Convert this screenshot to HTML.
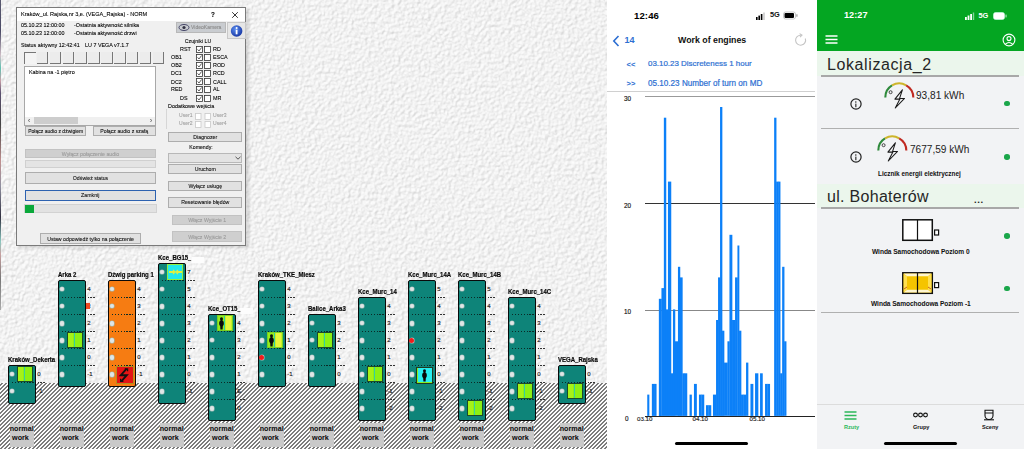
<!DOCTYPE html>
<html><head><meta charset="utf-8">
<style>
*{margin:0;padding:0;box-sizing:border-box}
html,body{width:1024px;height:449px;overflow:hidden;background:#fff}
body{position:relative;font-family:"Liberation Sans", sans-serif}
.a{position:absolute}
.t{position:absolute;white-space:nowrap;line-height:1}
</style></head><body>

<svg class="a" style="left:0;top:0" width="608" height="449">
<defs>
<filter id="tx" x="0" y="0" width="100%" height="100%" color-interpolation-filters="sRGB">
<feTurbulence type="fractalNoise" baseFrequency="0.3" numOctaves="2" seed="3" result="n"/>
<feDiffuseLighting in="n" surfaceScale="1.6" diffuseConstant="1" lighting-color="#fff" result="l"><feDistantLight azimuth="225" elevation="55"/></feDiffuseLighting>
<feColorMatrix in="l" type="matrix" values="0.22 0 0 0 0.77  0.22 0 0 0 0.77  0.22 0 0 0 0.77  0 0 0 0 1"/>
</filter>
<pattern id="hatch" width="4" height="4" patternUnits="userSpaceOnUse"><rect width="4" height="4" fill="#fcfcfc"/><rect x="0" y="0" width="1" height="1" fill="#7c7c7c"/><rect x="1" y="0" width="1" height="1" fill="#7c7c7c"/><rect x="0" y="1" width="1" height="1" fill="#7c7c7c"/><rect x="3" y="1" width="1" height="1" fill="#7c7c7c"/><rect x="2" y="2" width="1" height="1" fill="#7c7c7c"/><rect x="3" y="2" width="1" height="1" fill="#7c7c7c"/><rect x="1" y="3" width="1" height="1" fill="#7c7c7c"/><rect x="2" y="3" width="1" height="1" fill="#7c7c7c"/></pattern>
</defs>
<rect width="608" height="449" fill="#f8f8f8"/>
<rect width="608" height="449" filter="url(#tx)"/>
<rect x="0" y="383" width="608" height="66" fill="url(#hatch)" shape-rendering="crispEdges"/>
</svg>

<div class="a" style="left:0;top:0;width:1.2px;height:310px;background:linear-gradient(#5a5a70 0%,#4a4a66 10%,#d0c0c8 18%,#60c0b0 22%,#c8a0a8 26%,#5a5070 30%,#444 40%,#c09090 52%,#9090a0 60%,#303040 70%,#8cc8c0 78%,#c8a0a0 82%,#777 90%,#aaa 100%)"></div>
<div class="a" style="left:18px;top:9px;width:231px;height:239px;background:rgba(0,0,0,0.12);filter:blur(1.5px)"></div>
<div class="a" style="left:16px;top:7.2px;width:230.3px;height:238.5px;background:#f0f0f0;border:1px solid #7a7a7a"></div>
<div class="a" style="left:17px;top:8px;width:228px;height:13px;background:#fff"></div>
<div class="t" style="left:20.5px;top:11.4px;font-size:6.2px;color:#000;font-weight:normal;transform:scaleX(0.9);transform-origin:0 0;-webkit-text-stroke:0.1px #000;">Kraków_ul. Rajska,nr 3,e. (VEGA_Rajska) - NORM</div>
<div class="t" style="left:211px;top:11.0px;font-size:7px;color:#000;font-weight:bold;transform:scaleX(0.9);transform-origin:0 0;-webkit-text-stroke:0.1px #000;">?</div>
<svg class="a" style="left:231px;top:11px" width="8" height="8"><path d="M1.2 1.2L6.8 6.8M6.8 1.2L1.2 6.8" stroke="#222" stroke-width="0.9"/></svg>
<div class="t" style="left:21px;top:22.0px;font-size:6.0px;color:#000;font-weight:normal;transform:scaleX(0.9);transform-origin:0 0;-webkit-text-stroke:0.1px #000;">05.10.23 12:00:00</div>
<div class="t" style="left:21px;top:29.5px;font-size:6.0px;color:#000;font-weight:normal;transform:scaleX(0.9);transform-origin:0 0;-webkit-text-stroke:0.1px #000;">05.10.23 12:00:00</div>
<div class="t" style="left:74px;top:22.0px;font-size:6.0px;color:#000;font-weight:normal;transform:scaleX(0.9);transform-origin:0 0;-webkit-text-stroke:0.1px #000;">-Ostatnia aktywność silnika</div>
<div class="t" style="left:74px;top:29.5px;font-size:6.0px;color:#000;font-weight:normal;transform:scaleX(0.9);transform-origin:0 0;-webkit-text-stroke:0.1px #000;">-Ostatnia aktywność drzwi</div>
<div class="t" style="left:21px;top:42.3px;font-size:6.0px;color:#000;font-weight:normal;transform:scaleX(0.9);transform-origin:0 0;-webkit-text-stroke:0.1px #000;">Status aktywny 12:42:41</div>
<div class="t" style="left:84.5px;top:42.3px;font-size:6.0px;color:#000;font-weight:normal;transform:scaleX(0.9);transform-origin:0 0;-webkit-text-stroke:0.1px #000;">LU 7 VEGA v7.1.7</div>
<div class="a" style="left:176px;top:22px;width:50px;height:11px;background:#c9ccd0;border:1px solid #b8b8b8"></div>
<svg class="a" style="left:178px;top:23px" width="12" height="9"><ellipse cx="6" cy="4.5" rx="5" ry="3" fill="none" stroke="#446" stroke-width="1"/><circle cx="6" cy="4.5" r="1.6" fill="#334"/></svg>
<div class="t" style="left:191px;top:24.7px;font-size:5.6px;color:#8a8a8a;font-weight:normal;transform:scaleX(0.9);transform-origin:0 0;-webkit-text-stroke:0.1px #8a8a8a;">VideoKamera</div>
<div class="a" style="left:227px;top:22px;width:19px;height:17px;background:#e6e6e6;border:1px solid #c8c8c8"></div>
<svg class="a" style="left:229px;top:22.5px" width="16" height="16"><defs><radialGradient id="ig" cx="0.4" cy="0.35" r="0.7"><stop offset="0" stop-color="#5b8ef0"/><stop offset="1" stop-color="#1533a0"/></radialGradient></defs><circle cx="7.6" cy="8" r="5.8" fill="url(#ig)"/><circle cx="7.6" cy="5" r="1" fill="#fff"/><rect x="6.7" y="6.7" width="1.8" height="4.6" fill="#fff"/></svg>
<div class="a" style="left:24.0px;top:52px;width:11.5px;height:12px;border-top:1.2px solid #777;border-left:1.2px solid #777;background:#f4f4f4"></div>
<div class="a" style="left:36.9px;top:52px;width:11.5px;height:12px;border-right:1.2px solid #777;border-bottom:1.2px solid #777;background:#ececec"></div>
<div class="a" style="left:49.7px;top:52px;width:11.5px;height:12px;border-right:1.2px solid #777;border-bottom:1.2px solid #777;background:#ececec"></div>
<div class="a" style="left:62.5px;top:52px;width:11.5px;height:12px;border-right:1.2px solid #777;border-bottom:1.2px solid #777;background:#ececec"></div>
<div class="a" style="left:75.4px;top:52px;width:11.5px;height:12px;border-right:1.2px solid #777;border-bottom:1.2px solid #777;background:#ececec"></div>
<div class="a" style="left:88.2px;top:52px;width:11.5px;height:12px;border-right:1.2px solid #777;border-bottom:1.2px solid #777;background:#ececec"></div>
<div class="a" style="left:101.1px;top:52px;width:11.5px;height:12px;border-right:1.2px solid #777;border-bottom:1.2px solid #777;background:#ececec"></div>
<div class="a" style="left:114.0px;top:52px;width:11.5px;height:12px;border-right:1.2px solid #777;border-bottom:1.2px solid #777;background:#ececec"></div>
<div class="a" style="left:126.8px;top:52px;width:11.5px;height:12px;border-right:1.2px solid #777;border-bottom:1.2px solid #777;background:#ececec"></div>
<div class="a" style="left:139.6px;top:52px;width:11.5px;height:12px;border-right:1.2px solid #777;border-bottom:1.2px solid #777;background:#ececec"></div>
<div class="a" style="left:152.5px;top:52px;width:11.5px;height:12px;border-right:1.2px solid #777;border-bottom:1.2px solid #777;background:#ececec"></div>
<div class="a" style="left:24px;top:65.5px;width:132px;height:60px;background:#fff;border:1px solid #a8a8a8"></div>
<div class="t" style="left:29px;top:68.7px;font-size:6.0px;color:#000;font-weight:normal;transform:scaleX(0.9);transform-origin:0 0;-webkit-text-stroke:0.1px #000;">Kabina na -1 piętro</div>
<div class="a" style="left:25px;top:116.5px;width:130px;height:8px;background:#f0f0f0"></div>
<div class="a" style="left:34px;top:117px;width:44px;height:7px;background:#cdcdcd"></div>
<div class="t" style="left:28px;top:117.0px;font-size:7px;color:#555;font-weight:normal;transform:scaleX(0.9);transform-origin:0 0;-webkit-text-stroke:0.1px #555;">‹</div>
<div class="t" style="left:149.5px;top:117.0px;font-size:7px;color:#555;font-weight:normal;transform:scaleX(0.9);transform-origin:0 0;-webkit-text-stroke:0.1px #555;">›</div>
<div class="a" style="left:24.5px;top:126px;width:61.5px;height:9.5px;background:#e1e1e1;border:1px solid #adadad"></div>
<div class="t" style="left:24.5px;width:61.5px;text-align:center;top:129.1px;font-size:5.6px;color:#111;font-weight:normal;transform:scaleX(0.9);transform-origin:50% 0;-webkit-text-stroke:0.1px #111;">Połącz audio z dźwigiem</div>
<div class="a" style="left:93px;top:126px;width:62.5px;height:9.5px;background:#e1e1e1;border:1px solid #adadad"></div>
<div class="t" style="left:93px;width:62.5px;text-align:center;top:129.0px;font-size:5.8px;color:#111;font-weight:normal;transform:scaleX(0.9);transform-origin:50% 0;-webkit-text-stroke:0.1px #111;">Połącz audio z szafą</div>
<div class="a" style="left:24.5px;top:149px;width:131.0px;height:9px;background:#cfcfcf;border:1px solid #c2c2c2"></div>
<div class="t" style="left:24.5px;width:131.0px;text-align:center;top:151.8px;font-size:5.8px;color:#9a9a9a;font-weight:normal;transform:scaleX(0.9);transform-origin:50% 0;-webkit-text-stroke:0.1px #9a9a9a;">Wyłącz połączenie audio</div>
<div class="a" style="left:24.5px;top:159.5px;width:131px;height:8.5px;background:#e4e4e4;border:1px solid #d0d0d0"></div>
<div class="a" style="left:24.5px;top:172px;width:131.0px;height:11.5px;background:#e1e1e1;border:1px solid #adadad"></div>
<div class="t" style="left:24.5px;width:131.0px;text-align:center;top:176.0px;font-size:5.8px;color:#111;font-weight:normal;transform:scaleX(0.9);transform-origin:50% 0;-webkit-text-stroke:0.1px #111;">Odśwież status</div>
<div class="a" style="left:25px;top:189.5px;width:130.5px;height:11.0px;background:#e1e1e1;border:1.5px solid #2d62b0"></div>
<div class="t" style="left:25px;width:130.5px;text-align:center;top:193.3px;font-size:5.8px;color:#111;font-weight:normal;transform:scaleX(0.9);transform-origin:50% 0;-webkit-text-stroke:0.1px #111;">Zamknij</div>
<div class="a" style="left:24px;top:204px;width:132.5px;height:9px;background:#e2e2e2;border:1px solid #d2d2d2"></div>
<div class="a" style="left:24.5px;top:204.5px;width:9px;height:8px;background:#0aa83a"></div>
<div class="a" style="left:40px;top:233px;width:101px;height:10.5px;background:#e1e1e1;border:1px solid #adadad"></div>
<div class="t" style="left:40px;width:101px;text-align:center;top:236.5px;font-size:5.8px;color:#111;font-weight:normal;transform:scaleX(0.9);transform-origin:50% 0;-webkit-text-stroke:0.1px #111;">Ustaw odpowiedź tylko na połączenie</div>
<div class="t" style="left:180px;width:36px;text-align:center;top:39.3px;font-size:5.8px;color:#000;font-weight:normal;transform:scaleX(0.9);transform-origin:50% 0;-webkit-text-stroke:0.1px #000;">Czujniki LU</div>
<div class="t" style="left:180px;top:46.0px;font-size:6.0px;color:#000;font-weight:normal;transform:scaleX(0.9);transform-origin:0 0;-webkit-text-stroke:0.1px #000;">RST</div>
<svg class="a" style="left:196px;top:45.7px" width="15" height="7"><rect x="0.5" y="0.5" width="6" height="6" fill="#fff" stroke="#333" stroke-width="0.8"/><path d="M1.6 3.4L3 5L5.6 1.5" fill="none" stroke="#333" stroke-width="0.8"/><rect x="8.5" y="0.5" width="6" height="6" fill="#fff" stroke="#333" stroke-width="0.8"/></svg>
<div class="t" style="left:212.5px;top:46.0px;font-size:6.0px;color:#000;font-weight:normal;transform:scaleX(0.9);transform-origin:0 0;-webkit-text-stroke:0.1px #000;">RD</div>
<div class="t" style="left:170.5px;top:54.0px;font-size:6.0px;color:#000;font-weight:normal;transform:scaleX(0.9);transform-origin:0 0;-webkit-text-stroke:0.1px #000;">OB1</div>
<svg class="a" style="left:196px;top:53.7px" width="15" height="7"><rect x="0.5" y="0.5" width="6" height="6" fill="#fff" stroke="#333" stroke-width="0.8"/><path d="M1.6 3.4L3 5L5.6 1.5" fill="none" stroke="#333" stroke-width="0.8"/><rect x="8.5" y="0.5" width="6" height="6" fill="#fff" stroke="#333" stroke-width="0.8"/></svg>
<div class="t" style="left:212.5px;top:54.0px;font-size:6.0px;color:#000;font-weight:normal;transform:scaleX(0.9);transform-origin:0 0;-webkit-text-stroke:0.1px #000;">ESCA</div>
<div class="t" style="left:170.5px;top:62.0px;font-size:6.0px;color:#000;font-weight:normal;transform:scaleX(0.9);transform-origin:0 0;-webkit-text-stroke:0.1px #000;">OB2</div>
<svg class="a" style="left:196px;top:61.7px" width="15" height="7"><rect x="0.5" y="0.5" width="6" height="6" fill="#fff" stroke="#333" stroke-width="0.8"/><path d="M1.6 3.4L3 5L5.6 1.5" fill="none" stroke="#333" stroke-width="0.8"/><rect x="8.5" y="0.5" width="6" height="6" fill="#fff" stroke="#333" stroke-width="0.8"/></svg>
<div class="t" style="left:212.5px;top:62.0px;font-size:6.0px;color:#000;font-weight:normal;transform:scaleX(0.9);transform-origin:0 0;-webkit-text-stroke:0.1px #000;">ROD</div>
<div class="t" style="left:170.5px;top:70.0px;font-size:6.0px;color:#000;font-weight:normal;transform:scaleX(0.9);transform-origin:0 0;-webkit-text-stroke:0.1px #000;">DC1</div>
<svg class="a" style="left:196px;top:69.7px" width="15" height="7"><rect x="0.5" y="0.5" width="6" height="6" fill="#fff" stroke="#333" stroke-width="0.8"/><path d="M1.6 3.4L3 5L5.6 1.5" fill="none" stroke="#333" stroke-width="0.8"/><rect x="8.5" y="0.5" width="6" height="6" fill="#fff" stroke="#333" stroke-width="0.8"/></svg>
<div class="t" style="left:212.5px;top:70.0px;font-size:6.0px;color:#000;font-weight:normal;transform:scaleX(0.9);transform-origin:0 0;-webkit-text-stroke:0.1px #000;">RCD</div>
<div class="t" style="left:170.5px;top:78.5px;font-size:6.0px;color:#000;font-weight:normal;transform:scaleX(0.9);transform-origin:0 0;-webkit-text-stroke:0.1px #000;">DC2</div>
<svg class="a" style="left:196px;top:78.2px" width="15" height="7"><rect x="0.5" y="0.5" width="6" height="6" fill="#fff" stroke="#333" stroke-width="0.8"/><path d="M1.6 3.4L3 5L5.6 1.5" fill="none" stroke="#333" stroke-width="0.8"/><rect x="8.5" y="0.5" width="6" height="6" fill="#fff" stroke="#333" stroke-width="0.8"/></svg>
<div class="t" style="left:212.5px;top:78.5px;font-size:6.0px;color:#000;font-weight:normal;transform:scaleX(0.9);transform-origin:0 0;-webkit-text-stroke:0.1px #000;">CALL</div>
<div class="t" style="left:170.5px;top:86.0px;font-size:6.0px;color:#000;font-weight:normal;transform:scaleX(0.9);transform-origin:0 0;-webkit-text-stroke:0.1px #000;">RED</div>
<svg class="a" style="left:196px;top:85.7px" width="15" height="7"><rect x="0.5" y="0.5" width="6" height="6" fill="#fff" stroke="#333" stroke-width="0.8"/><path d="M1.6 3.4L3 5L5.6 1.5" fill="none" stroke="#333" stroke-width="0.8"/><rect x="8.5" y="0.5" width="6" height="6" fill="#fff" stroke="#333" stroke-width="0.8"/></svg>
<div class="t" style="left:212.5px;top:86.0px;font-size:6.0px;color:#000;font-weight:normal;transform:scaleX(0.9);transform-origin:0 0;-webkit-text-stroke:0.1px #000;">AL</div>
<div class="t" style="left:180px;top:95.0px;font-size:6.0px;color:#000;font-weight:normal;transform:scaleX(0.9);transform-origin:0 0;-webkit-text-stroke:0.1px #000;">DS</div>
<svg class="a" style="left:196px;top:94.7px" width="15" height="7"><rect x="0.5" y="0.5" width="6" height="6" fill="#fff" stroke="#333" stroke-width="0.8"/><path d="M1.6 3.4L3 5L5.6 1.5" fill="none" stroke="#333" stroke-width="0.8"/><rect x="8.5" y="0.5" width="6" height="6" fill="#fff" stroke="#333" stroke-width="0.8"/></svg>
<div class="t" style="left:212.5px;top:95.0px;font-size:6.0px;color:#000;font-weight:normal;transform:scaleX(0.9);transform-origin:0 0;-webkit-text-stroke:0.1px #000;">MR</div>
<div class="t" style="left:168px;top:103.2px;font-size:6.0px;color:#000;font-weight:normal;transform:scaleX(0.9);transform-origin:0 0;-webkit-text-stroke:0.1px #000;">Dodatkowe wejścia</div>
<div class="a" style="left:166px;top:109px;width:1px;height:20px;background:#d6d6d6"></div>
<div class="t" style="left:179px;top:113.0px;font-size:5.6px;color:#a0a0a0;font-weight:normal;transform:scaleX(0.9);transform-origin:0 0;-webkit-text-stroke:0.1px #a0a0a0;">User1</div>
<svg class="a" style="left:194.5px;top:112.6px" width="17" height="7"><rect x="0.5" y="0.5" width="5.5" height="6" fill="#fff" stroke="#c8c8c8" stroke-width="0.8"/><rect x="10" y="0.5" width="5.5" height="6" fill="#fff" stroke="#c8c8c8" stroke-width="0.8"/></svg>
<div class="t" style="left:212.5px;top:113.0px;font-size:5.6px;color:#a0a0a0;font-weight:normal;transform:scaleX(0.9);transform-origin:0 0;-webkit-text-stroke:0.1px #a0a0a0;">User3</div>
<div class="t" style="left:179px;top:121.0px;font-size:5.6px;color:#a0a0a0;font-weight:normal;transform:scaleX(0.9);transform-origin:0 0;-webkit-text-stroke:0.1px #a0a0a0;">User2</div>
<svg class="a" style="left:194.5px;top:120.6px" width="17" height="7"><rect x="0.5" y="0.5" width="5.5" height="6" fill="#fff" stroke="#c8c8c8" stroke-width="0.8"/><rect x="10" y="0.5" width="5.5" height="6" fill="#fff" stroke="#c8c8c8" stroke-width="0.8"/></svg>
<div class="t" style="left:212.5px;top:121.0px;font-size:5.6px;color:#a0a0a0;font-weight:normal;transform:scaleX(0.9);transform-origin:0 0;-webkit-text-stroke:0.1px #a0a0a0;">User4</div>
<div class="a" style="left:167.5px;top:131.5px;width:74.5px;height:10.0px;background:#e1e1e1;border:1px solid #adadad"></div>
<div class="t" style="left:167.5px;width:74.5px;text-align:center;top:134.8px;font-size:5.8px;color:#111;font-weight:normal;transform:scaleX(0.9);transform-origin:50% 0;-webkit-text-stroke:0.1px #111;">Diagnozer</div>
<div class="t" style="left:180px;width:42px;text-align:center;top:145.3px;font-size:5.8px;color:#000;font-weight:normal;transform:scaleX(0.9);transform-origin:50% 0;-webkit-text-stroke:0.1px #000;">Komendy:</div>
<div class="a" style="left:167.5px;top:152.5px;width:74.5px;height:10px;background:#e3e3e3;border:1px solid #b8b8b8"></div>
<svg class="a" style="left:234.5px;top:155.5px" width="6" height="4"><path d="M0.5 0.8L3 3.2L5.5 0.8" fill="none" stroke="#444" stroke-width="0.9"/></svg>
<div class="a" style="left:167.5px;top:163.5px;width:74.5px;height:10.800000000000011px;background:#e1e1e1;border:1px solid #adadad"></div>
<div class="t" style="left:167.5px;width:74.5px;text-align:center;top:167.2px;font-size:5.8px;color:#111;font-weight:normal;transform:scaleX(0.9);transform-origin:50% 0;-webkit-text-stroke:0.1px #111;">Uruchom</div>
<div class="a" style="left:167.5px;top:180.5px;width:74.5px;height:10.5px;background:#e1e1e1;border:1px solid #adadad"></div>
<div class="t" style="left:167.5px;width:74.5px;text-align:center;top:184.0px;font-size:5.8px;color:#111;font-weight:normal;transform:scaleX(0.9);transform-origin:50% 0;-webkit-text-stroke:0.1px #111;">Wyłącz usługę</div>
<div class="a" style="left:167.5px;top:196.5px;width:74.5px;height:11.0px;background:#e1e1e1;border:1px solid #adadad"></div>
<div class="t" style="left:167.5px;width:74.5px;text-align:center;top:200.3px;font-size:5.8px;color:#111;font-weight:normal;transform:scaleX(0.9);transform-origin:50% 0;-webkit-text-stroke:0.1px #111;">Resetowanie błędów</div>
<div class="a" style="left:171.5px;top:214.5px;width:70.5px;height:10.5px;background:#cfcfcf;border:1px solid #c2c2c2"></div>
<div class="t" style="left:171.5px;width:70.5px;text-align:center;top:218.0px;font-size:5.8px;color:#9a9a9a;font-weight:normal;transform:scaleX(0.9);transform-origin:50% 0;-webkit-text-stroke:0.1px #9a9a9a;">Włącz Wyjście 1</div>
<div class="a" style="left:171.5px;top:231px;width:70.5px;height:10.5px;background:#cfcfcf;border:1px solid #c2c2c2"></div>
<div class="t" style="left:171.5px;width:70.5px;text-align:center;top:234.5px;font-size:5.8px;color:#9a9a9a;font-weight:normal;transform:scaleX(0.9);transform-origin:50% 0;-webkit-text-stroke:0.1px #9a9a9a;">Włącz Wyjście 2</div>
<div class="t" style="left:7.8px;top:357.3px;font-size:6.7px;font-weight:bold;color:#0a0a0a;-webkit-text-stroke:0.2px #0a0a0a;transform:scaleX(0.9);transform-origin:0 0">Kraków_Dekerta</div>
<div class="a" style="left:7.5px;top:365px;width:28.4px;height:38.9px;background:#0e8479;border:1.3px solid #0a0a0a;border-radius:2px"></div>
<div class="a" style="left:9.5px;top:371.9px;width:4.6px;height:4.6px;border-radius:50%;background:#e0e6e6;box-shadow:0 0 0 0.6px #9cb8b4"></div>
<div class="a" style="left:11.7px;top:381.6px;width:22.5px;height:1px;background:repeating-linear-gradient(90deg,#0a2a26 0,#0a2a26 1.2px,transparent 1.2px,transparent 2.9px)"></div>
<div class="a" style="left:37.8px;top:381.6px;width:1.5px;height:1px;background:#333"></div><div class="a" style="left:40.4px;top:381.6px;width:1.5px;height:1px;background:#333"></div><div class="a" style="left:43.0px;top:381.6px;width:1.5px;height:1px;background:#333"></div>
<div class="t" style="left:37.3px;top:371.0px;font-size:6.0px;color:#1a1a1a;-webkit-text-stroke:0.15px #1a1a1a">0</div>
<div class="a" style="left:9.5px;top:388.9px;width:4.6px;height:4.6px;border-radius:50%;background:#e0e6e6;box-shadow:0 0 0 0.6px #9cb8b4"></div>
<div class="t" style="left:37.3px;top:388.1px;font-size:6.0px;color:#1a1a1a;-webkit-text-stroke:0.15px #1a1a1a">-1</div>
<div class="a" style="left:16.6px;top:366.0px;width:16.5px;height:16px;background:#8cf014;border:1px solid #1c4a2a"></div>
<div class="a" style="left:17.6px;top:367.0px;width:5.6px;height:14px;background:#a6f218"></div>
<div class="a" style="left:24.0px;top:367.0px;width:1.3px;height:14px;background:#34cfa6"></div>
<div class="a" style="left:9.5px;top:422.5px;width:24.2px;height:24.5px;background:#c9c9c9"></div>
<div class="t" style="left:9.7px;top:425.4px;font-size:7.2px;font-weight:bold;color:#0a0a0a">normal</div>
<div class="t" style="left:12.1px;top:433.6px;font-size:7.2px;font-weight:bold;color:#0a0a0a">work</div>
<div class="t" style="left:57.8px;top:272.3px;font-size:6.7px;font-weight:bold;color:#0a0a0a;-webkit-text-stroke:0.2px #0a0a0a;transform:scaleX(0.9);transform-origin:0 0">Arka 2</div>
<div class="a" style="left:57.5px;top:280px;width:28.4px;height:107.1px;background:#0e8479;border:1.3px solid #0a0a0a;border-radius:2px"></div>
<div class="a" style="left:59.5px;top:286.9px;width:4.6px;height:4.6px;border-radius:50%;background:#e0e6e6;box-shadow:0 0 0 0.6px #9cb8b4"></div>
<div class="a" style="left:61.7px;top:296.6px;width:22.5px;height:1px;background:repeating-linear-gradient(90deg,#0a2a26 0,#0a2a26 1.2px,transparent 1.2px,transparent 2.9px)"></div>
<div class="a" style="left:87.8px;top:296.6px;width:1.5px;height:1px;background:#333"></div><div class="a" style="left:90.4px;top:296.6px;width:1.5px;height:1px;background:#333"></div><div class="a" style="left:93.0px;top:296.6px;width:1.5px;height:1px;background:#333"></div>
<div class="t" style="left:87.3px;top:286.0px;font-size:6.0px;color:#1a1a1a;-webkit-text-stroke:0.15px #1a1a1a">4</div>
<div class="a" style="left:59.5px;top:303.9px;width:4.6px;height:4.6px;border-radius:50%;background:#e0e6e6;box-shadow:0 0 0 0.6px #9cb8b4"></div>
<div class="a" style="left:61.7px;top:313.7px;width:22.5px;height:1px;background:repeating-linear-gradient(90deg,#0a2a26 0,#0a2a26 1.2px,transparent 1.2px,transparent 2.9px)"></div>
<div class="a" style="left:87.8px;top:313.7px;width:1.5px;height:1px;background:#333"></div><div class="a" style="left:90.4px;top:313.7px;width:1.5px;height:1px;background:#333"></div><div class="a" style="left:93.0px;top:313.7px;width:1.5px;height:1px;background:#333"></div>
<div class="t" style="left:87.3px;top:303.1px;font-size:6.0px;color:#1a1a1a;-webkit-text-stroke:0.15px #1a1a1a">3</div>
<div class="a" style="left:59.5px;top:321.0px;width:4.6px;height:4.6px;border-radius:50%;background:#e0e6e6;box-shadow:0 0 0 0.6px #9cb8b4"></div>
<div class="a" style="left:61.7px;top:330.7px;width:22.5px;height:1px;background:repeating-linear-gradient(90deg,#0a2a26 0,#0a2a26 1.2px,transparent 1.2px,transparent 2.9px)"></div>
<div class="a" style="left:87.8px;top:330.7px;width:1.5px;height:1px;background:#333"></div><div class="a" style="left:90.4px;top:330.7px;width:1.5px;height:1px;background:#333"></div><div class="a" style="left:93.0px;top:330.7px;width:1.5px;height:1px;background:#333"></div>
<div class="t" style="left:87.3px;top:320.1px;font-size:6.0px;color:#1a1a1a;-webkit-text-stroke:0.15px #1a1a1a">2</div>
<div class="a" style="left:59.5px;top:338.1px;width:4.6px;height:4.6px;border-radius:50%;background:#e0e6e6;box-shadow:0 0 0 0.6px #9cb8b4"></div>
<div class="a" style="left:61.7px;top:347.8px;width:22.5px;height:1px;background:repeating-linear-gradient(90deg,#0a2a26 0,#0a2a26 1.2px,transparent 1.2px,transparent 2.9px)"></div>
<div class="a" style="left:87.8px;top:347.8px;width:1.5px;height:1px;background:#333"></div><div class="a" style="left:90.4px;top:347.8px;width:1.5px;height:1px;background:#333"></div><div class="a" style="left:93.0px;top:347.8px;width:1.5px;height:1px;background:#333"></div>
<div class="t" style="left:87.3px;top:337.2px;font-size:6.0px;color:#1a1a1a;-webkit-text-stroke:0.15px #1a1a1a">1</div>
<div class="a" style="left:59.5px;top:355.1px;width:4.6px;height:4.6px;border-radius:50%;background:#e0e6e6;box-shadow:0 0 0 0.6px #9cb8b4"></div>
<div class="a" style="left:61.7px;top:364.8px;width:22.5px;height:1px;background:repeating-linear-gradient(90deg,#0a2a26 0,#0a2a26 1.2px,transparent 1.2px,transparent 2.9px)"></div>
<div class="a" style="left:87.8px;top:364.8px;width:1.5px;height:1px;background:#333"></div><div class="a" style="left:90.4px;top:364.8px;width:1.5px;height:1px;background:#333"></div><div class="a" style="left:93.0px;top:364.8px;width:1.5px;height:1px;background:#333"></div>
<div class="t" style="left:87.3px;top:354.2px;font-size:6.0px;color:#1a1a1a;-webkit-text-stroke:0.15px #1a1a1a">0</div>
<div class="a" style="left:59.5px;top:372.1px;width:4.6px;height:4.6px;border-radius:50%;background:#e0e6e6;box-shadow:0 0 0 0.6px #9cb8b4"></div>
<div class="t" style="left:87.3px;top:371.2px;font-size:6.0px;color:#1a1a1a;-webkit-text-stroke:0.15px #1a1a1a">-1</div>
<div class="a" style="left:86.3px;top:303.2px;width:4px;height:6px;background:#f24a22"></div>
<div class="a" style="left:66.6px;top:332.2px;width:16.5px;height:16px;background:#8cf014;border:1px solid #1c4a2a"></div>
<div class="a" style="left:67.6px;top:333.2px;width:5.6px;height:14px;background:#a6f218"></div>
<div class="a" style="left:74.0px;top:333.2px;width:1.3px;height:14px;background:#34cfa6"></div>
<div class="a" style="left:59.5px;top:422.5px;width:24.2px;height:24.5px;background:#c9c9c9"></div>
<div class="t" style="left:59.7px;top:425.4px;font-size:7.2px;font-weight:bold;color:#0a0a0a">normal</div>
<div class="t" style="left:62.1px;top:433.6px;font-size:7.2px;font-weight:bold;color:#0a0a0a">work</div>
<div class="t" style="left:107.8px;top:272.3px;font-size:6.7px;font-weight:bold;color:#0a0a0a;-webkit-text-stroke:0.2px #0a0a0a;transform:scaleX(0.9);transform-origin:0 0">Dźwig parking 1</div>
<div class="a" style="left:107.5px;top:280px;width:28.4px;height:107.1px;background:#f67c12;border:1.3px solid #0a0a0a;border-radius:2px"></div>
<div class="a" style="left:109.5px;top:286.9px;width:4.6px;height:4.6px;border-radius:50%;background:#e0e6e6;box-shadow:0 0 0 0.6px #9cb8b4"></div>
<div class="a" style="left:111.7px;top:296.6px;width:22.5px;height:1px;background:repeating-linear-gradient(90deg,#0a2a26 0,#0a2a26 1.2px,transparent 1.2px,transparent 2.9px)"></div>
<div class="a" style="left:137.8px;top:296.6px;width:1.5px;height:1px;background:#333"></div><div class="a" style="left:140.4px;top:296.6px;width:1.5px;height:1px;background:#333"></div><div class="a" style="left:143.0px;top:296.6px;width:1.5px;height:1px;background:#333"></div>
<div class="t" style="left:137.3px;top:286.0px;font-size:6.0px;color:#1a1a1a;-webkit-text-stroke:0.15px #1a1a1a">4</div>
<div class="a" style="left:109.5px;top:303.9px;width:4.6px;height:4.6px;border-radius:50%;background:#e0e6e6;box-shadow:0 0 0 0.6px #9cb8b4"></div>
<div class="a" style="left:111.7px;top:313.7px;width:22.5px;height:1px;background:repeating-linear-gradient(90deg,#0a2a26 0,#0a2a26 1.2px,transparent 1.2px,transparent 2.9px)"></div>
<div class="a" style="left:137.8px;top:313.7px;width:1.5px;height:1px;background:#333"></div><div class="a" style="left:140.4px;top:313.7px;width:1.5px;height:1px;background:#333"></div><div class="a" style="left:143.0px;top:313.7px;width:1.5px;height:1px;background:#333"></div>
<div class="t" style="left:137.3px;top:303.1px;font-size:6.0px;color:#1a1a1a;-webkit-text-stroke:0.15px #1a1a1a">3</div>
<div class="a" style="left:109.5px;top:321.0px;width:4.6px;height:4.6px;border-radius:50%;background:#e0e6e6;box-shadow:0 0 0 0.6px #9cb8b4"></div>
<div class="a" style="left:111.7px;top:330.7px;width:22.5px;height:1px;background:repeating-linear-gradient(90deg,#0a2a26 0,#0a2a26 1.2px,transparent 1.2px,transparent 2.9px)"></div>
<div class="a" style="left:137.8px;top:330.7px;width:1.5px;height:1px;background:#333"></div><div class="a" style="left:140.4px;top:330.7px;width:1.5px;height:1px;background:#333"></div><div class="a" style="left:143.0px;top:330.7px;width:1.5px;height:1px;background:#333"></div>
<div class="t" style="left:137.3px;top:320.1px;font-size:6.0px;color:#1a1a1a;-webkit-text-stroke:0.15px #1a1a1a">2</div>
<div class="a" style="left:109.5px;top:338.1px;width:4.6px;height:4.6px;border-radius:50%;background:#e0e6e6;box-shadow:0 0 0 0.6px #9cb8b4"></div>
<div class="a" style="left:111.7px;top:347.8px;width:22.5px;height:1px;background:repeating-linear-gradient(90deg,#0a2a26 0,#0a2a26 1.2px,transparent 1.2px,transparent 2.9px)"></div>
<div class="a" style="left:137.8px;top:347.8px;width:1.5px;height:1px;background:#333"></div><div class="a" style="left:140.4px;top:347.8px;width:1.5px;height:1px;background:#333"></div><div class="a" style="left:143.0px;top:347.8px;width:1.5px;height:1px;background:#333"></div>
<div class="t" style="left:137.3px;top:337.2px;font-size:6.0px;color:#1a1a1a;-webkit-text-stroke:0.15px #1a1a1a">1</div>
<div class="a" style="left:109.5px;top:355.1px;width:4.6px;height:4.6px;border-radius:50%;background:#e0e6e6;box-shadow:0 0 0 0.6px #9cb8b4"></div>
<div class="a" style="left:111.7px;top:364.8px;width:22.5px;height:1px;background:repeating-linear-gradient(90deg,#0a2a26 0,#0a2a26 1.2px,transparent 1.2px,transparent 2.9px)"></div>
<div class="a" style="left:137.8px;top:364.8px;width:1.5px;height:1px;background:#333"></div><div class="a" style="left:140.4px;top:364.8px;width:1.5px;height:1px;background:#333"></div><div class="a" style="left:143.0px;top:364.8px;width:1.5px;height:1px;background:#333"></div>
<div class="t" style="left:137.3px;top:354.2px;font-size:6.0px;color:#1a1a1a;-webkit-text-stroke:0.15px #1a1a1a">0</div>
<div class="a" style="left:109.5px;top:372.1px;width:4.6px;height:4.6px;border-radius:50%;background:#e0e6e6;box-shadow:0 0 0 0.6px #9cb8b4"></div>
<div class="t" style="left:137.3px;top:371.2px;font-size:6.0px;color:#1a1a1a;-webkit-text-stroke:0.15px #1a1a1a">-1</div>
<div class="a" style="left:115.6px;top:365.8px;width:18px;height:18px;background:#e41414;border:1.4px solid #b09020"></div>
<svg class="a" style="left:118.1px;top:367.8px" width="13" height="14"><path d="M8.5 0.8L2.8 7.2H8.8L3.5 13.2" fill="none" stroke="#111" stroke-width="1.9"/><path d="M6.8 0.8H9.6V3.2" fill="none" stroke="#111" stroke-width="1.2"/><path d="M2.6 10.8V13.4H5.4" fill="none" stroke="#111" stroke-width="1.2"/></svg>
<div class="a" style="left:109.5px;top:422.5px;width:24.2px;height:24.5px;background:#c9c9c9"></div>
<div class="t" style="left:109.7px;top:425.4px;font-size:7.2px;font-weight:bold;color:#0a0a0a">normal</div>
<div class="t" style="left:112.1px;top:433.6px;font-size:7.2px;font-weight:bold;color:#0a0a0a">work</div>
<div class="t" style="left:157.8px;top:255.3px;font-size:6.7px;font-weight:bold;color:#0a0a0a;-webkit-text-stroke:0.2px #0a0a0a;transform:scaleX(0.9);transform-origin:0 0">Kce_BG15_<span style="display:inline-block;width:13.9px;height:6.7px;background:#fdfdfd;vertical-align:-3px"></span></div>
<div class="a" style="left:157.5px;top:263px;width:28.4px;height:141.2px;background:#0e8479;border:1.3px solid #0a0a0a;border-radius:2px"></div>
<div class="a" style="left:159.5px;top:269.9px;width:4.6px;height:4.6px;border-radius:50%;background:#e0e6e6;box-shadow:0 0 0 0.6px #9cb8b4"></div>
<div class="a" style="left:161.7px;top:279.6px;width:22.5px;height:1px;background:repeating-linear-gradient(90deg,#0a2a26 0,#0a2a26 1.2px,transparent 1.2px,transparent 2.9px)"></div>
<div class="a" style="left:187.8px;top:279.6px;width:1.5px;height:1px;background:#333"></div><div class="a" style="left:190.4px;top:279.6px;width:1.5px;height:1px;background:#333"></div><div class="a" style="left:193.0px;top:279.6px;width:1.5px;height:1px;background:#333"></div>
<div class="t" style="left:187.3px;top:269.0px;font-size:6.0px;color:#1a1a1a;-webkit-text-stroke:0.15px #1a1a1a">7</div>
<div class="a" style="left:159.5px;top:286.9px;width:4.6px;height:4.6px;border-radius:50%;background:#e0e6e6;box-shadow:0 0 0 0.6px #9cb8b4"></div>
<div class="a" style="left:161.7px;top:296.7px;width:22.5px;height:1px;background:repeating-linear-gradient(90deg,#0a2a26 0,#0a2a26 1.2px,transparent 1.2px,transparent 2.9px)"></div>
<div class="a" style="left:187.8px;top:296.7px;width:1.5px;height:1px;background:#333"></div><div class="a" style="left:190.4px;top:296.7px;width:1.5px;height:1px;background:#333"></div><div class="a" style="left:193.0px;top:296.7px;width:1.5px;height:1px;background:#333"></div>
<div class="t" style="left:187.3px;top:286.1px;font-size:6.0px;color:#1a1a1a;-webkit-text-stroke:0.15px #1a1a1a">5</div>
<div class="a" style="left:159.5px;top:304.0px;width:4.6px;height:4.6px;border-radius:50%;background:#e0e6e6;box-shadow:0 0 0 0.6px #9cb8b4"></div>
<div class="a" style="left:161.7px;top:313.7px;width:22.5px;height:1px;background:repeating-linear-gradient(90deg,#0a2a26 0,#0a2a26 1.2px,transparent 1.2px,transparent 2.9px)"></div>
<div class="a" style="left:187.8px;top:313.7px;width:1.5px;height:1px;background:#333"></div><div class="a" style="left:190.4px;top:313.7px;width:1.5px;height:1px;background:#333"></div><div class="a" style="left:193.0px;top:313.7px;width:1.5px;height:1px;background:#333"></div>
<div class="t" style="left:187.3px;top:303.1px;font-size:6.0px;color:#1a1a1a;-webkit-text-stroke:0.15px #1a1a1a">4</div>
<div class="a" style="left:159.5px;top:321.1px;width:4.6px;height:4.6px;border-radius:50%;background:#e0e6e6;box-shadow:0 0 0 0.6px #9cb8b4"></div>
<div class="a" style="left:161.7px;top:330.8px;width:22.5px;height:1px;background:repeating-linear-gradient(90deg,#0a2a26 0,#0a2a26 1.2px,transparent 1.2px,transparent 2.9px)"></div>
<div class="a" style="left:187.8px;top:330.8px;width:1.5px;height:1px;background:#333"></div><div class="a" style="left:190.4px;top:330.8px;width:1.5px;height:1px;background:#333"></div><div class="a" style="left:193.0px;top:330.8px;width:1.5px;height:1px;background:#333"></div>
<div class="t" style="left:187.3px;top:320.2px;font-size:6.0px;color:#1a1a1a;-webkit-text-stroke:0.15px #1a1a1a">3</div>
<div class="a" style="left:159.5px;top:338.1px;width:4.6px;height:4.6px;border-radius:50%;background:#e0e6e6;box-shadow:0 0 0 0.6px #9cb8b4"></div>
<div class="a" style="left:161.7px;top:347.8px;width:22.5px;height:1px;background:repeating-linear-gradient(90deg,#0a2a26 0,#0a2a26 1.2px,transparent 1.2px,transparent 2.9px)"></div>
<div class="a" style="left:187.8px;top:347.8px;width:1.5px;height:1px;background:#333"></div><div class="a" style="left:190.4px;top:347.8px;width:1.5px;height:1px;background:#333"></div><div class="a" style="left:193.0px;top:347.8px;width:1.5px;height:1px;background:#333"></div>
<div class="t" style="left:187.3px;top:337.2px;font-size:6.0px;color:#1a1a1a;-webkit-text-stroke:0.15px #1a1a1a">2</div>
<div class="a" style="left:159.5px;top:355.1px;width:4.6px;height:4.6px;border-radius:50%;background:#e0e6e6;box-shadow:0 0 0 0.6px #9cb8b4"></div>
<div class="a" style="left:161.7px;top:364.9px;width:22.5px;height:1px;background:repeating-linear-gradient(90deg,#0a2a26 0,#0a2a26 1.2px,transparent 1.2px,transparent 2.9px)"></div>
<div class="a" style="left:187.8px;top:364.9px;width:1.5px;height:1px;background:#333"></div><div class="a" style="left:190.4px;top:364.9px;width:1.5px;height:1px;background:#333"></div><div class="a" style="left:193.0px;top:364.9px;width:1.5px;height:1px;background:#333"></div>
<div class="t" style="left:187.3px;top:354.2px;font-size:6.0px;color:#1a1a1a;-webkit-text-stroke:0.15px #1a1a1a">1</div>
<div class="a" style="left:159.5px;top:372.2px;width:4.6px;height:4.6px;border-radius:50%;background:#e0e6e6;box-shadow:0 0 0 0.6px #9cb8b4"></div>
<div class="a" style="left:161.7px;top:381.9px;width:22.5px;height:1px;background:repeating-linear-gradient(90deg,#0a2a26 0,#0a2a26 1.2px,transparent 1.2px,transparent 2.9px)"></div>
<div class="a" style="left:187.8px;top:381.9px;width:1.5px;height:1px;background:#333"></div><div class="a" style="left:190.4px;top:381.9px;width:1.5px;height:1px;background:#333"></div><div class="a" style="left:193.0px;top:381.9px;width:1.5px;height:1px;background:#333"></div>
<div class="t" style="left:187.3px;top:371.3px;font-size:6.0px;color:#1a1a1a;-webkit-text-stroke:0.15px #1a1a1a">0</div>
<div class="a" style="left:159.5px;top:389.2px;width:4.6px;height:4.6px;border-radius:50%;background:#e0e6e6;box-shadow:0 0 0 0.6px #9cb8b4"></div>
<div class="t" style="left:187.3px;top:388.4px;font-size:6.0px;color:#1a1a1a;-webkit-text-stroke:0.15px #1a1a1a">-1</div>
<div class="a" style="left:166.6px;top:263.8px;width:16.5px;height:16px;background:#22e8ec;border:1px solid #90f040"></div>
<svg class="a" style="left:166.6px;top:269.0px" width="17" height="6"><path d="M2 3h5M10 3h5" stroke="#e0f040" stroke-width="1.8"/><path d="M6 0.8l2.2 2.2-2.2 2.2M11 0.8l-2.2 2.2 2.2 2.2" fill="none" stroke="#e0f040" stroke-width="1.1"/></svg>
<div class="a" style="left:159.5px;top:422.5px;width:24.2px;height:24.5px;background:#c9c9c9"></div>
<div class="t" style="left:159.7px;top:425.4px;font-size:7.2px;font-weight:bold;color:#0a0a0a">normal</div>
<div class="t" style="left:162.1px;top:433.6px;font-size:7.2px;font-weight:bold;color:#0a0a0a">work</div>
<div class="t" style="left:207.8px;top:306.3px;font-size:6.7px;font-weight:bold;color:#0a0a0a;-webkit-text-stroke:0.2px #0a0a0a;transform:scaleX(0.9);transform-origin:0 0">Kce_OT15_<span style="display:inline-block;width:13.9px;height:6.7px;background:#fdfdfd;vertical-align:-3px"></span></div>
<div class="a" style="left:207.5px;top:314px;width:28.4px;height:107.1px;background:#0e8479;border:1.3px solid #0a0a0a;border-radius:2px"></div>
<div class="a" style="left:209.5px;top:320.9px;width:4.6px;height:4.6px;border-radius:50%;background:#e0e6e6;box-shadow:0 0 0 0.6px #9cb8b4"></div>
<div class="a" style="left:211.7px;top:330.6px;width:22.5px;height:1px;background:repeating-linear-gradient(90deg,#0a2a26 0,#0a2a26 1.2px,transparent 1.2px,transparent 2.9px)"></div>
<div class="a" style="left:237.8px;top:330.6px;width:1.5px;height:1px;background:#333"></div><div class="a" style="left:240.4px;top:330.6px;width:1.5px;height:1px;background:#333"></div><div class="a" style="left:243.0px;top:330.6px;width:1.5px;height:1px;background:#333"></div>
<div class="t" style="left:237.3px;top:320.0px;font-size:6.0px;color:#1a1a1a;-webkit-text-stroke:0.15px #1a1a1a">4</div>
<div class="a" style="left:209.5px;top:337.9px;width:4.6px;height:4.6px;border-radius:50%;background:#e0e6e6;box-shadow:0 0 0 0.6px #9cb8b4"></div>
<div class="a" style="left:211.7px;top:347.7px;width:22.5px;height:1px;background:repeating-linear-gradient(90deg,#0a2a26 0,#0a2a26 1.2px,transparent 1.2px,transparent 2.9px)"></div>
<div class="a" style="left:237.8px;top:347.7px;width:1.5px;height:1px;background:#333"></div><div class="a" style="left:240.4px;top:347.7px;width:1.5px;height:1px;background:#333"></div><div class="a" style="left:243.0px;top:347.7px;width:1.5px;height:1px;background:#333"></div>
<div class="t" style="left:237.3px;top:337.1px;font-size:6.0px;color:#1a1a1a;-webkit-text-stroke:0.15px #1a1a1a">3</div>
<div class="a" style="left:209.5px;top:355.0px;width:4.6px;height:4.6px;border-radius:50%;background:#e0e6e6;box-shadow:0 0 0 0.6px #9cb8b4"></div>
<div class="a" style="left:211.7px;top:364.7px;width:22.5px;height:1px;background:repeating-linear-gradient(90deg,#0a2a26 0,#0a2a26 1.2px,transparent 1.2px,transparent 2.9px)"></div>
<div class="a" style="left:237.8px;top:364.7px;width:1.5px;height:1px;background:#333"></div><div class="a" style="left:240.4px;top:364.7px;width:1.5px;height:1px;background:#333"></div><div class="a" style="left:243.0px;top:364.7px;width:1.5px;height:1px;background:#333"></div>
<div class="t" style="left:237.3px;top:354.1px;font-size:6.0px;color:#1a1a1a;-webkit-text-stroke:0.15px #1a1a1a">2</div>
<div class="a" style="left:209.5px;top:372.1px;width:4.6px;height:4.6px;border-radius:50%;background:#e0e6e6;box-shadow:0 0 0 0.6px #9cb8b4"></div>
<div class="a" style="left:211.7px;top:381.8px;width:22.5px;height:1px;background:repeating-linear-gradient(90deg,#0a2a26 0,#0a2a26 1.2px,transparent 1.2px,transparent 2.9px)"></div>
<div class="a" style="left:237.8px;top:381.8px;width:1.5px;height:1px;background:#333"></div><div class="a" style="left:240.4px;top:381.8px;width:1.5px;height:1px;background:#333"></div><div class="a" style="left:243.0px;top:381.8px;width:1.5px;height:1px;background:#333"></div>
<div class="t" style="left:237.3px;top:371.2px;font-size:6.0px;color:#1a1a1a;-webkit-text-stroke:0.15px #1a1a1a">1</div>
<div class="a" style="left:209.5px;top:389.1px;width:4.6px;height:4.6px;border-radius:50%;background:#e0e6e6;box-shadow:0 0 0 0.6px #9cb8b4"></div>
<div class="a" style="left:211.7px;top:398.8px;width:22.5px;height:1px;background:repeating-linear-gradient(90deg,#0a2a26 0,#0a2a26 1.2px,transparent 1.2px,transparent 2.9px)"></div>
<div class="a" style="left:237.8px;top:398.8px;width:1.5px;height:1px;background:#333"></div><div class="a" style="left:240.4px;top:398.8px;width:1.5px;height:1px;background:#333"></div><div class="a" style="left:243.0px;top:398.8px;width:1.5px;height:1px;background:#333"></div>
<div class="t" style="left:237.3px;top:388.2px;font-size:6.0px;color:#1a1a1a;-webkit-text-stroke:0.15px #1a1a1a">E</div>
<div class="a" style="left:209.5px;top:406.1px;width:4.6px;height:4.6px;border-radius:50%;background:#e0e6e6;box-shadow:0 0 0 0.6px #9cb8b4"></div>
<div class="t" style="left:237.3px;top:405.2px;font-size:6.0px;color:#1a1a1a;-webkit-text-stroke:0.15px #1a1a1a">0</div>
<div class="a" style="left:216.6px;top:315.0px;width:16.5px;height:16px;background:#c6f226;border:1px solid #7ad020"></div>
<div class="a" style="left:217.6px;top:316.0px;width:6px;height:14px;background:#96ee1c"></div>
<div class="a" style="left:223.6px;top:316.0px;width:1.8px;height:14px;background:#2ecaa8"></div>
<div class="a" style="left:226.1px;top:316.0px;width:4.5px;height:14px;background:#e6f43c"></div>
<svg class="a" style="left:217.79999999999998px;top:316.5px" width="7" height="13"><path d="M3.5 0.3C2.4 0.3 1.9 1.2 2.1 2.2C2.2 2.9 2.6 3.2 2.6 3.5C1.4 3.9 1.1 5 1.2 7C1.3 8.2 1.9 8.6 2.2 9.2L2.4 12.5H4.6L4.8 9.2C5.1 8.6 5.7 8.2 5.8 7C5.9 5 5.6 3.9 4.4 3.5C4.4 3.2 4.8 2.9 4.9 2.2C5.1 1.2 4.6 0.3 3.5 0.3Z" fill="#0a0a0a"/></svg>
<div class="a" style="left:209.5px;top:422.5px;width:24.2px;height:24.5px;background:#c9c9c9"></div>
<div class="t" style="left:209.7px;top:425.4px;font-size:7.2px;font-weight:bold;color:#0a0a0a">normal</div>
<div class="t" style="left:212.1px;top:433.6px;font-size:7.2px;font-weight:bold;color:#0a0a0a">work</div>
<div class="t" style="left:257.8px;top:272.3px;font-size:6.7px;font-weight:bold;color:#0a0a0a;-webkit-text-stroke:0.2px #0a0a0a;transform:scaleX(0.9);transform-origin:0 0">Kraków_TKE_Miesz</div>
<div class="a" style="left:257.5px;top:280px;width:28.4px;height:107.1px;background:#0e8479;border:1.3px solid #0a0a0a;border-radius:2px"></div>
<div class="a" style="left:259.5px;top:286.9px;width:4.6px;height:4.6px;border-radius:50%;background:#e0e6e6;box-shadow:0 0 0 0.6px #9cb8b4"></div>
<div class="a" style="left:261.7px;top:296.6px;width:22.5px;height:1px;background:repeating-linear-gradient(90deg,#0a2a26 0,#0a2a26 1.2px,transparent 1.2px,transparent 2.9px)"></div>
<div class="a" style="left:287.8px;top:296.6px;width:1.5px;height:1px;background:#333"></div><div class="a" style="left:290.4px;top:296.6px;width:1.5px;height:1px;background:#333"></div><div class="a" style="left:293.0px;top:296.6px;width:1.5px;height:1px;background:#333"></div>
<div class="t" style="left:287.3px;top:286.0px;font-size:6.0px;color:#1a1a1a;-webkit-text-stroke:0.15px #1a1a1a">4</div>
<div class="a" style="left:259.5px;top:303.9px;width:4.6px;height:4.6px;border-radius:50%;background:#e0e6e6;box-shadow:0 0 0 0.6px #9cb8b4"></div>
<div class="a" style="left:261.7px;top:313.7px;width:22.5px;height:1px;background:repeating-linear-gradient(90deg,#0a2a26 0,#0a2a26 1.2px,transparent 1.2px,transparent 2.9px)"></div>
<div class="a" style="left:287.8px;top:313.7px;width:1.5px;height:1px;background:#333"></div><div class="a" style="left:290.4px;top:313.7px;width:1.5px;height:1px;background:#333"></div><div class="a" style="left:293.0px;top:313.7px;width:1.5px;height:1px;background:#333"></div>
<div class="t" style="left:287.3px;top:303.1px;font-size:6.0px;color:#1a1a1a;-webkit-text-stroke:0.15px #1a1a1a">3</div>
<div class="a" style="left:259.5px;top:321.0px;width:4.6px;height:4.6px;border-radius:50%;background:#e0e6e6;box-shadow:0 0 0 0.6px #9cb8b4"></div>
<div class="a" style="left:261.7px;top:330.7px;width:22.5px;height:1px;background:repeating-linear-gradient(90deg,#0a2a26 0,#0a2a26 1.2px,transparent 1.2px,transparent 2.9px)"></div>
<div class="a" style="left:287.8px;top:330.7px;width:1.5px;height:1px;background:#333"></div><div class="a" style="left:290.4px;top:330.7px;width:1.5px;height:1px;background:#333"></div><div class="a" style="left:293.0px;top:330.7px;width:1.5px;height:1px;background:#333"></div>
<div class="t" style="left:287.3px;top:320.1px;font-size:6.0px;color:#1a1a1a;-webkit-text-stroke:0.15px #1a1a1a">2</div>
<div class="a" style="left:259.5px;top:338.1px;width:4.6px;height:4.6px;border-radius:50%;background:#e0e6e6;box-shadow:0 0 0 0.6px #9cb8b4"></div>
<div class="a" style="left:261.7px;top:347.8px;width:22.5px;height:1px;background:repeating-linear-gradient(90deg,#0a2a26 0,#0a2a26 1.2px,transparent 1.2px,transparent 2.9px)"></div>
<div class="a" style="left:287.8px;top:347.8px;width:1.5px;height:1px;background:#333"></div><div class="a" style="left:290.4px;top:347.8px;width:1.5px;height:1px;background:#333"></div><div class="a" style="left:293.0px;top:347.8px;width:1.5px;height:1px;background:#333"></div>
<div class="t" style="left:287.3px;top:337.2px;font-size:6.0px;color:#1a1a1a;-webkit-text-stroke:0.15px #1a1a1a">1</div>
<div class="a" style="left:259.5px;top:355.1px;width:4.6px;height:4.6px;border-radius:50%;background:#e0e6e6;box-shadow:0 0 0 0.6px #9cb8b4"></div>
<div class="a" style="left:261.7px;top:364.8px;width:22.5px;height:1px;background:repeating-linear-gradient(90deg,#0a2a26 0,#0a2a26 1.2px,transparent 1.2px,transparent 2.9px)"></div>
<div class="a" style="left:287.8px;top:364.8px;width:1.5px;height:1px;background:#333"></div><div class="a" style="left:290.4px;top:364.8px;width:1.5px;height:1px;background:#333"></div><div class="a" style="left:293.0px;top:364.8px;width:1.5px;height:1px;background:#333"></div>
<div class="t" style="left:287.3px;top:354.2px;font-size:6.0px;color:#1a1a1a;-webkit-text-stroke:0.15px #1a1a1a">0</div>
<div class="a" style="left:259.5px;top:372.1px;width:4.6px;height:4.6px;border-radius:50%;background:#e0e6e6;box-shadow:0 0 0 0.6px #9cb8b4"></div>
<div class="t" style="left:287.3px;top:371.2px;font-size:6.0px;color:#1a1a1a;-webkit-text-stroke:0.15px #1a1a1a">-1</div>
<div class="a" style="left:259.2px;top:354.9px;width:5px;height:5px;border-radius:50%;background:#ee1c1c"></div>
<div class="a" style="left:266.6px;top:332.2px;width:16.5px;height:16px;background:#c6f226;border:1px solid #7ad020"></div>
<div class="a" style="left:267.6px;top:333.2px;width:6px;height:14px;background:#96ee1c"></div>
<div class="a" style="left:273.6px;top:333.2px;width:1.8px;height:14px;background:#2ecaa8"></div>
<div class="a" style="left:276.1px;top:333.2px;width:4.5px;height:14px;background:#e6f43c"></div>
<svg class="a" style="left:267.8px;top:333.7px" width="7" height="13"><path d="M3.5 0.3C2.4 0.3 1.9 1.2 2.1 2.2C2.2 2.9 2.6 3.2 2.6 3.5C1.4 3.9 1.1 5 1.2 7C1.3 8.2 1.9 8.6 2.2 9.2L2.4 12.5H4.6L4.8 9.2C5.1 8.6 5.7 8.2 5.8 7C5.9 5 5.6 3.9 4.4 3.5C4.4 3.2 4.8 2.9 4.9 2.2C5.1 1.2 4.6 0.3 3.5 0.3Z" fill="#0a0a0a"/></svg>
<div class="a" style="left:259.5px;top:422.5px;width:24.2px;height:24.5px;background:#c9c9c9"></div>
<div class="t" style="left:259.7px;top:425.4px;font-size:7.2px;font-weight:bold;color:#0a0a0a">normal</div>
<div class="t" style="left:262.1px;top:433.6px;font-size:7.2px;font-weight:bold;color:#0a0a0a">work</div>
<div class="t" style="left:307.8px;top:306.3px;font-size:6.7px;font-weight:bold;color:#0a0a0a;-webkit-text-stroke:0.2px #0a0a0a;transform:scaleX(0.9);transform-origin:0 0">Balice_Arka3</div>
<div class="a" style="left:307.5px;top:314px;width:28.4px;height:73.0px;background:#0e8479;border:1.3px solid #0a0a0a;border-radius:2px"></div>
<div class="a" style="left:309.5px;top:320.9px;width:4.6px;height:4.6px;border-radius:50%;background:#e0e6e6;box-shadow:0 0 0 0.6px #9cb8b4"></div>
<div class="a" style="left:311.7px;top:330.6px;width:22.5px;height:1px;background:repeating-linear-gradient(90deg,#0a2a26 0,#0a2a26 1.2px,transparent 1.2px,transparent 2.9px)"></div>
<div class="a" style="left:337.8px;top:330.6px;width:1.5px;height:1px;background:#333"></div><div class="a" style="left:340.4px;top:330.6px;width:1.5px;height:1px;background:#333"></div><div class="a" style="left:343.0px;top:330.6px;width:1.5px;height:1px;background:#333"></div>
<div class="t" style="left:337.3px;top:320.0px;font-size:6.0px;color:#1a1a1a;-webkit-text-stroke:0.15px #1a1a1a">3</div>
<div class="a" style="left:309.5px;top:337.9px;width:4.6px;height:4.6px;border-radius:50%;background:#e0e6e6;box-shadow:0 0 0 0.6px #9cb8b4"></div>
<div class="a" style="left:311.7px;top:347.7px;width:22.5px;height:1px;background:repeating-linear-gradient(90deg,#0a2a26 0,#0a2a26 1.2px,transparent 1.2px,transparent 2.9px)"></div>
<div class="a" style="left:337.8px;top:347.7px;width:1.5px;height:1px;background:#333"></div><div class="a" style="left:340.4px;top:347.7px;width:1.5px;height:1px;background:#333"></div><div class="a" style="left:343.0px;top:347.7px;width:1.5px;height:1px;background:#333"></div>
<div class="t" style="left:337.3px;top:337.1px;font-size:6.0px;color:#1a1a1a;-webkit-text-stroke:0.15px #1a1a1a">2</div>
<div class="a" style="left:309.5px;top:355.0px;width:4.6px;height:4.6px;border-radius:50%;background:#e0e6e6;box-shadow:0 0 0 0.6px #9cb8b4"></div>
<div class="a" style="left:311.7px;top:364.7px;width:22.5px;height:1px;background:repeating-linear-gradient(90deg,#0a2a26 0,#0a2a26 1.2px,transparent 1.2px,transparent 2.9px)"></div>
<div class="a" style="left:337.8px;top:364.7px;width:1.5px;height:1px;background:#333"></div><div class="a" style="left:340.4px;top:364.7px;width:1.5px;height:1px;background:#333"></div><div class="a" style="left:343.0px;top:364.7px;width:1.5px;height:1px;background:#333"></div>
<div class="t" style="left:337.3px;top:354.1px;font-size:6.0px;color:#1a1a1a;-webkit-text-stroke:0.15px #1a1a1a">1</div>
<div class="a" style="left:309.5px;top:372.1px;width:4.6px;height:4.6px;border-radius:50%;background:#e0e6e6;box-shadow:0 0 0 0.6px #9cb8b4"></div>
<div class="t" style="left:337.3px;top:371.2px;font-size:6.0px;color:#1a1a1a;-webkit-text-stroke:0.15px #1a1a1a">0</div>
<div class="a" style="left:316.6px;top:332.1px;width:16.5px;height:16px;background:#8cf014;border:1px solid #1c4a2a"></div>
<div class="a" style="left:317.6px;top:333.1px;width:5.6px;height:14px;background:#a6f218"></div>
<div class="a" style="left:324.0px;top:333.1px;width:1.3px;height:14px;background:#34cfa6"></div>
<div class="a" style="left:309.5px;top:422.5px;width:24.2px;height:24.5px;background:#c9c9c9"></div>
<div class="t" style="left:309.7px;top:425.4px;font-size:7.2px;font-weight:bold;color:#0a0a0a">normal</div>
<div class="t" style="left:312.1px;top:433.6px;font-size:7.2px;font-weight:bold;color:#0a0a0a">work</div>
<div class="t" style="left:357.8px;top:289.3px;font-size:6.7px;font-weight:bold;color:#0a0a0a;-webkit-text-stroke:0.2px #0a0a0a;transform:scaleX(0.9);transform-origin:0 0">Kce_Murc_14</div>
<div class="a" style="left:357.5px;top:297px;width:28.4px;height:124.2px;background:#0e8479;border:1.3px solid #0a0a0a;border-radius:2px"></div>
<div class="a" style="left:359.5px;top:303.9px;width:4.6px;height:4.6px;border-radius:50%;background:#e0e6e6;box-shadow:0 0 0 0.6px #9cb8b4"></div>
<div class="a" style="left:361.7px;top:313.6px;width:22.5px;height:1px;background:repeating-linear-gradient(90deg,#0a2a26 0,#0a2a26 1.2px,transparent 1.2px,transparent 2.9px)"></div>
<div class="a" style="left:387.8px;top:313.6px;width:1.5px;height:1px;background:#333"></div><div class="a" style="left:390.4px;top:313.6px;width:1.5px;height:1px;background:#333"></div><div class="a" style="left:393.0px;top:313.6px;width:1.5px;height:1px;background:#333"></div>
<div class="t" style="left:387.3px;top:303.0px;font-size:6.0px;color:#1a1a1a;-webkit-text-stroke:0.15px #1a1a1a">4</div>
<div class="a" style="left:359.5px;top:320.9px;width:4.6px;height:4.6px;border-radius:50%;background:#e0e6e6;box-shadow:0 0 0 0.6px #9cb8b4"></div>
<div class="a" style="left:361.7px;top:330.7px;width:22.5px;height:1px;background:repeating-linear-gradient(90deg,#0a2a26 0,#0a2a26 1.2px,transparent 1.2px,transparent 2.9px)"></div>
<div class="a" style="left:387.8px;top:330.7px;width:1.5px;height:1px;background:#333"></div><div class="a" style="left:390.4px;top:330.7px;width:1.5px;height:1px;background:#333"></div><div class="a" style="left:393.0px;top:330.7px;width:1.5px;height:1px;background:#333"></div>
<div class="t" style="left:387.3px;top:320.1px;font-size:6.0px;color:#1a1a1a;-webkit-text-stroke:0.15px #1a1a1a">3</div>
<div class="a" style="left:359.5px;top:338.0px;width:4.6px;height:4.6px;border-radius:50%;background:#e0e6e6;box-shadow:0 0 0 0.6px #9cb8b4"></div>
<div class="a" style="left:361.7px;top:347.7px;width:22.5px;height:1px;background:repeating-linear-gradient(90deg,#0a2a26 0,#0a2a26 1.2px,transparent 1.2px,transparent 2.9px)"></div>
<div class="a" style="left:387.8px;top:347.7px;width:1.5px;height:1px;background:#333"></div><div class="a" style="left:390.4px;top:347.7px;width:1.5px;height:1px;background:#333"></div><div class="a" style="left:393.0px;top:347.7px;width:1.5px;height:1px;background:#333"></div>
<div class="t" style="left:387.3px;top:337.1px;font-size:6.0px;color:#1a1a1a;-webkit-text-stroke:0.15px #1a1a1a">2</div>
<div class="a" style="left:359.5px;top:355.1px;width:4.6px;height:4.6px;border-radius:50%;background:#e0e6e6;box-shadow:0 0 0 0.6px #9cb8b4"></div>
<div class="a" style="left:361.7px;top:364.8px;width:22.5px;height:1px;background:repeating-linear-gradient(90deg,#0a2a26 0,#0a2a26 1.2px,transparent 1.2px,transparent 2.9px)"></div>
<div class="a" style="left:387.8px;top:364.8px;width:1.5px;height:1px;background:#333"></div><div class="a" style="left:390.4px;top:364.8px;width:1.5px;height:1px;background:#333"></div><div class="a" style="left:393.0px;top:364.8px;width:1.5px;height:1px;background:#333"></div>
<div class="t" style="left:387.3px;top:354.2px;font-size:6.0px;color:#1a1a1a;-webkit-text-stroke:0.15px #1a1a1a">1</div>
<div class="a" style="left:359.5px;top:372.1px;width:4.6px;height:4.6px;border-radius:50%;background:#e0e6e6;box-shadow:0 0 0 0.6px #9cb8b4"></div>
<div class="a" style="left:361.7px;top:381.8px;width:22.5px;height:1px;background:repeating-linear-gradient(90deg,#0a2a26 0,#0a2a26 1.2px,transparent 1.2px,transparent 2.9px)"></div>
<div class="a" style="left:387.8px;top:381.8px;width:1.5px;height:1px;background:#333"></div><div class="a" style="left:390.4px;top:381.8px;width:1.5px;height:1px;background:#333"></div><div class="a" style="left:393.0px;top:381.8px;width:1.5px;height:1px;background:#333"></div>
<div class="t" style="left:387.3px;top:371.2px;font-size:6.0px;color:#1a1a1a;-webkit-text-stroke:0.15px #1a1a1a">0</div>
<div class="a" style="left:359.5px;top:389.1px;width:4.6px;height:4.6px;border-radius:50%;background:#e0e6e6;box-shadow:0 0 0 0.6px #9cb8b4"></div>
<div class="a" style="left:361.7px;top:398.9px;width:22.5px;height:1px;background:repeating-linear-gradient(90deg,#0a2a26 0,#0a2a26 1.2px,transparent 1.2px,transparent 2.9px)"></div>
<div class="a" style="left:387.8px;top:398.9px;width:1.5px;height:1px;background:#333"></div><div class="a" style="left:390.4px;top:398.9px;width:1.5px;height:1px;background:#333"></div><div class="a" style="left:393.0px;top:398.9px;width:1.5px;height:1px;background:#333"></div>
<div class="t" style="left:387.3px;top:388.2px;font-size:6.0px;color:#1a1a1a;-webkit-text-stroke:0.15px #1a1a1a">-1</div>
<div class="a" style="left:359.5px;top:406.2px;width:4.6px;height:4.6px;border-radius:50%;background:#e0e6e6;box-shadow:0 0 0 0.6px #9cb8b4"></div>
<div class="t" style="left:387.3px;top:405.3px;font-size:6.0px;color:#1a1a1a;-webkit-text-stroke:0.15px #1a1a1a">-2</div>
<div class="a" style="left:366.6px;top:366.2px;width:16.5px;height:16px;background:#8cf014;border:1px solid #1c4a2a"></div>
<div class="a" style="left:367.6px;top:367.2px;width:5.6px;height:14px;background:#a6f218"></div>
<div class="a" style="left:374.0px;top:367.2px;width:1.3px;height:14px;background:#34cfa6"></div>
<div class="a" style="left:359.5px;top:422.5px;width:24.2px;height:24.5px;background:#c9c9c9"></div>
<div class="t" style="left:359.7px;top:425.4px;font-size:7.2px;font-weight:bold;color:#0a0a0a">normal</div>
<div class="t" style="left:362.1px;top:433.6px;font-size:7.2px;font-weight:bold;color:#0a0a0a">work</div>
<div class="t" style="left:407.8px;top:272.3px;font-size:6.7px;font-weight:bold;color:#0a0a0a;-webkit-text-stroke:0.2px #0a0a0a;transform:scaleX(0.9);transform-origin:0 0">Kce_Murc_14A</div>
<div class="a" style="left:407.5px;top:280px;width:28.4px;height:141.2px;background:#0e8479;border:1.3px solid #0a0a0a;border-radius:2px"></div>
<div class="a" style="left:409.5px;top:286.9px;width:4.6px;height:4.6px;border-radius:50%;background:#e0e6e6;box-shadow:0 0 0 0.6px #9cb8b4"></div>
<div class="a" style="left:411.7px;top:296.6px;width:22.5px;height:1px;background:repeating-linear-gradient(90deg,#0a2a26 0,#0a2a26 1.2px,transparent 1.2px,transparent 2.9px)"></div>
<div class="a" style="left:437.8px;top:296.6px;width:1.5px;height:1px;background:#333"></div><div class="a" style="left:440.4px;top:296.6px;width:1.5px;height:1px;background:#333"></div><div class="a" style="left:443.0px;top:296.6px;width:1.5px;height:1px;background:#333"></div>
<div class="t" style="left:437.3px;top:286.0px;font-size:6.0px;color:#1a1a1a;-webkit-text-stroke:0.15px #1a1a1a">5</div>
<div class="a" style="left:409.5px;top:303.9px;width:4.6px;height:4.6px;border-radius:50%;background:#e0e6e6;box-shadow:0 0 0 0.6px #9cb8b4"></div>
<div class="a" style="left:411.7px;top:313.7px;width:22.5px;height:1px;background:repeating-linear-gradient(90deg,#0a2a26 0,#0a2a26 1.2px,transparent 1.2px,transparent 2.9px)"></div>
<div class="a" style="left:437.8px;top:313.7px;width:1.5px;height:1px;background:#333"></div><div class="a" style="left:440.4px;top:313.7px;width:1.5px;height:1px;background:#333"></div><div class="a" style="left:443.0px;top:313.7px;width:1.5px;height:1px;background:#333"></div>
<div class="t" style="left:437.3px;top:303.1px;font-size:6.0px;color:#1a1a1a;-webkit-text-stroke:0.15px #1a1a1a">4</div>
<div class="a" style="left:409.5px;top:321.0px;width:4.6px;height:4.6px;border-radius:50%;background:#e0e6e6;box-shadow:0 0 0 0.6px #9cb8b4"></div>
<div class="a" style="left:411.7px;top:330.7px;width:22.5px;height:1px;background:repeating-linear-gradient(90deg,#0a2a26 0,#0a2a26 1.2px,transparent 1.2px,transparent 2.9px)"></div>
<div class="a" style="left:437.8px;top:330.7px;width:1.5px;height:1px;background:#333"></div><div class="a" style="left:440.4px;top:330.7px;width:1.5px;height:1px;background:#333"></div><div class="a" style="left:443.0px;top:330.7px;width:1.5px;height:1px;background:#333"></div>
<div class="t" style="left:437.3px;top:320.1px;font-size:6.0px;color:#1a1a1a;-webkit-text-stroke:0.15px #1a1a1a">3</div>
<div class="a" style="left:409.5px;top:338.1px;width:4.6px;height:4.6px;border-radius:50%;background:#e0e6e6;box-shadow:0 0 0 0.6px #9cb8b4"></div>
<div class="a" style="left:411.7px;top:347.8px;width:22.5px;height:1px;background:repeating-linear-gradient(90deg,#0a2a26 0,#0a2a26 1.2px,transparent 1.2px,transparent 2.9px)"></div>
<div class="a" style="left:437.8px;top:347.8px;width:1.5px;height:1px;background:#333"></div><div class="a" style="left:440.4px;top:347.8px;width:1.5px;height:1px;background:#333"></div><div class="a" style="left:443.0px;top:347.8px;width:1.5px;height:1px;background:#333"></div>
<div class="t" style="left:437.3px;top:337.2px;font-size:6.0px;color:#1a1a1a;-webkit-text-stroke:0.15px #1a1a1a">2</div>
<div class="a" style="left:409.5px;top:355.1px;width:4.6px;height:4.6px;border-radius:50%;background:#e0e6e6;box-shadow:0 0 0 0.6px #9cb8b4"></div>
<div class="a" style="left:411.7px;top:364.8px;width:22.5px;height:1px;background:repeating-linear-gradient(90deg,#0a2a26 0,#0a2a26 1.2px,transparent 1.2px,transparent 2.9px)"></div>
<div class="a" style="left:437.8px;top:364.8px;width:1.5px;height:1px;background:#333"></div><div class="a" style="left:440.4px;top:364.8px;width:1.5px;height:1px;background:#333"></div><div class="a" style="left:443.0px;top:364.8px;width:1.5px;height:1px;background:#333"></div>
<div class="t" style="left:437.3px;top:354.2px;font-size:6.0px;color:#1a1a1a;-webkit-text-stroke:0.15px #1a1a1a">1</div>
<div class="a" style="left:409.5px;top:372.1px;width:4.6px;height:4.6px;border-radius:50%;background:#e0e6e6;box-shadow:0 0 0 0.6px #9cb8b4"></div>
<div class="a" style="left:411.7px;top:381.9px;width:22.5px;height:1px;background:repeating-linear-gradient(90deg,#0a2a26 0,#0a2a26 1.2px,transparent 1.2px,transparent 2.9px)"></div>
<div class="a" style="left:437.8px;top:381.9px;width:1.5px;height:1px;background:#333"></div><div class="a" style="left:440.4px;top:381.9px;width:1.5px;height:1px;background:#333"></div><div class="a" style="left:443.0px;top:381.9px;width:1.5px;height:1px;background:#333"></div>
<div class="t" style="left:437.3px;top:371.2px;font-size:6.0px;color:#1a1a1a;-webkit-text-stroke:0.15px #1a1a1a">0</div>
<div class="a" style="left:409.5px;top:389.2px;width:4.6px;height:4.6px;border-radius:50%;background:#e0e6e6;box-shadow:0 0 0 0.6px #9cb8b4"></div>
<div class="a" style="left:411.7px;top:398.9px;width:22.5px;height:1px;background:repeating-linear-gradient(90deg,#0a2a26 0,#0a2a26 1.2px,transparent 1.2px,transparent 2.9px)"></div>
<div class="a" style="left:437.8px;top:398.9px;width:1.5px;height:1px;background:#333"></div><div class="a" style="left:440.4px;top:398.9px;width:1.5px;height:1px;background:#333"></div><div class="a" style="left:443.0px;top:398.9px;width:1.5px;height:1px;background:#333"></div>
<div class="t" style="left:437.3px;top:388.3px;font-size:6.0px;color:#1a1a1a;-webkit-text-stroke:0.15px #1a1a1a">-1</div>
<div class="a" style="left:409.5px;top:406.2px;width:4.6px;height:4.6px;border-radius:50%;background:#e0e6e6;box-shadow:0 0 0 0.6px #9cb8b4"></div>
<div class="t" style="left:437.3px;top:405.4px;font-size:6.0px;color:#1a1a1a;-webkit-text-stroke:0.15px #1a1a1a">-2</div>
<div class="a" style="left:409.2px;top:337.9px;width:5px;height:5px;border-radius:50%;background:#ee1c1c"></div>
<div class="a" style="left:416.1px;top:366.6px;width:17.0px;height:17.5px;background:#88f020;border:1px solid #203a20"></div>
<div class="a" style="left:417.6px;top:367.9px;width:14.0px;height:14.5px;background:#28eef0"></div>
<svg class="a" style="left:421.1px;top:369.2px" width="7" height="13"><path d="M3.5 0.3C2.4 0.3 1.9 1.2 2.1 2.2C2.2 2.9 2.6 3.2 2.6 3.5C1.4 3.9 1.1 5 1.2 7C1.3 8.2 1.9 8.6 2.2 9.2L2.4 12.5H4.6L4.8 9.2C5.1 8.6 5.7 8.2 5.8 7C5.9 5 5.6 3.9 4.4 3.5C4.4 3.2 4.8 2.9 4.9 2.2C5.1 1.2 4.6 0.3 3.5 0.3Z" fill="#0a0a0a"/></svg>
<div class="a" style="left:409.5px;top:422.5px;width:24.2px;height:24.5px;background:#c9c9c9"></div>
<div class="t" style="left:409.7px;top:425.4px;font-size:7.2px;font-weight:bold;color:#0a0a0a">normal</div>
<div class="t" style="left:412.1px;top:433.6px;font-size:7.2px;font-weight:bold;color:#0a0a0a">work</div>
<div class="t" style="left:457.8px;top:272.3px;font-size:6.7px;font-weight:bold;color:#0a0a0a;-webkit-text-stroke:0.2px #0a0a0a;transform:scaleX(0.9);transform-origin:0 0">Kce_Murc_14B</div>
<div class="a" style="left:457.5px;top:280px;width:28.4px;height:141.2px;background:#0e8479;border:1.3px solid #0a0a0a;border-radius:2px"></div>
<div class="a" style="left:459.5px;top:286.9px;width:4.6px;height:4.6px;border-radius:50%;background:#e0e6e6;box-shadow:0 0 0 0.6px #9cb8b4"></div>
<div class="a" style="left:461.7px;top:296.6px;width:22.5px;height:1px;background:repeating-linear-gradient(90deg,#0a2a26 0,#0a2a26 1.2px,transparent 1.2px,transparent 2.9px)"></div>
<div class="a" style="left:487.8px;top:296.6px;width:1.5px;height:1px;background:#333"></div><div class="a" style="left:490.4px;top:296.6px;width:1.5px;height:1px;background:#333"></div><div class="a" style="left:493.0px;top:296.6px;width:1.5px;height:1px;background:#333"></div>
<div class="t" style="left:487.3px;top:286.0px;font-size:6.0px;color:#1a1a1a;-webkit-text-stroke:0.15px #1a1a1a">5</div>
<div class="a" style="left:459.5px;top:303.9px;width:4.6px;height:4.6px;border-radius:50%;background:#e0e6e6;box-shadow:0 0 0 0.6px #9cb8b4"></div>
<div class="a" style="left:461.7px;top:313.7px;width:22.5px;height:1px;background:repeating-linear-gradient(90deg,#0a2a26 0,#0a2a26 1.2px,transparent 1.2px,transparent 2.9px)"></div>
<div class="a" style="left:487.8px;top:313.7px;width:1.5px;height:1px;background:#333"></div><div class="a" style="left:490.4px;top:313.7px;width:1.5px;height:1px;background:#333"></div><div class="a" style="left:493.0px;top:313.7px;width:1.5px;height:1px;background:#333"></div>
<div class="t" style="left:487.3px;top:303.1px;font-size:6.0px;color:#1a1a1a;-webkit-text-stroke:0.15px #1a1a1a">4</div>
<div class="a" style="left:459.5px;top:321.0px;width:4.6px;height:4.6px;border-radius:50%;background:#e0e6e6;box-shadow:0 0 0 0.6px #9cb8b4"></div>
<div class="a" style="left:461.7px;top:330.7px;width:22.5px;height:1px;background:repeating-linear-gradient(90deg,#0a2a26 0,#0a2a26 1.2px,transparent 1.2px,transparent 2.9px)"></div>
<div class="a" style="left:487.8px;top:330.7px;width:1.5px;height:1px;background:#333"></div><div class="a" style="left:490.4px;top:330.7px;width:1.5px;height:1px;background:#333"></div><div class="a" style="left:493.0px;top:330.7px;width:1.5px;height:1px;background:#333"></div>
<div class="t" style="left:487.3px;top:320.1px;font-size:6.0px;color:#1a1a1a;-webkit-text-stroke:0.15px #1a1a1a">3</div>
<div class="a" style="left:459.5px;top:338.1px;width:4.6px;height:4.6px;border-radius:50%;background:#e0e6e6;box-shadow:0 0 0 0.6px #9cb8b4"></div>
<div class="a" style="left:461.7px;top:347.8px;width:22.5px;height:1px;background:repeating-linear-gradient(90deg,#0a2a26 0,#0a2a26 1.2px,transparent 1.2px,transparent 2.9px)"></div>
<div class="a" style="left:487.8px;top:347.8px;width:1.5px;height:1px;background:#333"></div><div class="a" style="left:490.4px;top:347.8px;width:1.5px;height:1px;background:#333"></div><div class="a" style="left:493.0px;top:347.8px;width:1.5px;height:1px;background:#333"></div>
<div class="t" style="left:487.3px;top:337.2px;font-size:6.0px;color:#1a1a1a;-webkit-text-stroke:0.15px #1a1a1a">2</div>
<div class="a" style="left:459.5px;top:355.1px;width:4.6px;height:4.6px;border-radius:50%;background:#e0e6e6;box-shadow:0 0 0 0.6px #9cb8b4"></div>
<div class="a" style="left:461.7px;top:364.8px;width:22.5px;height:1px;background:repeating-linear-gradient(90deg,#0a2a26 0,#0a2a26 1.2px,transparent 1.2px,transparent 2.9px)"></div>
<div class="a" style="left:487.8px;top:364.8px;width:1.5px;height:1px;background:#333"></div><div class="a" style="left:490.4px;top:364.8px;width:1.5px;height:1px;background:#333"></div><div class="a" style="left:493.0px;top:364.8px;width:1.5px;height:1px;background:#333"></div>
<div class="t" style="left:487.3px;top:354.2px;font-size:6.0px;color:#1a1a1a;-webkit-text-stroke:0.15px #1a1a1a">1</div>
<div class="a" style="left:459.5px;top:372.1px;width:4.6px;height:4.6px;border-radius:50%;background:#e0e6e6;box-shadow:0 0 0 0.6px #9cb8b4"></div>
<div class="a" style="left:461.7px;top:381.9px;width:22.5px;height:1px;background:repeating-linear-gradient(90deg,#0a2a26 0,#0a2a26 1.2px,transparent 1.2px,transparent 2.9px)"></div>
<div class="a" style="left:487.8px;top:381.9px;width:1.5px;height:1px;background:#333"></div><div class="a" style="left:490.4px;top:381.9px;width:1.5px;height:1px;background:#333"></div><div class="a" style="left:493.0px;top:381.9px;width:1.5px;height:1px;background:#333"></div>
<div class="t" style="left:487.3px;top:371.2px;font-size:6.0px;color:#1a1a1a;-webkit-text-stroke:0.15px #1a1a1a">0</div>
<div class="a" style="left:459.5px;top:389.2px;width:4.6px;height:4.6px;border-radius:50%;background:#e0e6e6;box-shadow:0 0 0 0.6px #9cb8b4"></div>
<div class="a" style="left:461.7px;top:398.9px;width:22.5px;height:1px;background:repeating-linear-gradient(90deg,#0a2a26 0,#0a2a26 1.2px,transparent 1.2px,transparent 2.9px)"></div>
<div class="a" style="left:487.8px;top:398.9px;width:1.5px;height:1px;background:#333"></div><div class="a" style="left:490.4px;top:398.9px;width:1.5px;height:1px;background:#333"></div><div class="a" style="left:493.0px;top:398.9px;width:1.5px;height:1px;background:#333"></div>
<div class="t" style="left:487.3px;top:388.3px;font-size:6.0px;color:#1a1a1a;-webkit-text-stroke:0.15px #1a1a1a">-1</div>
<div class="a" style="left:459.5px;top:406.2px;width:4.6px;height:4.6px;border-radius:50%;background:#e0e6e6;box-shadow:0 0 0 0.6px #9cb8b4"></div>
<div class="t" style="left:487.3px;top:405.4px;font-size:6.0px;color:#1a1a1a;-webkit-text-stroke:0.15px #1a1a1a">-2</div>
<div class="a" style="left:466.6px;top:400.4px;width:16.5px;height:16px;background:#8cf014;border:1px solid #1c4a2a"></div>
<div class="a" style="left:467.6px;top:401.4px;width:5.6px;height:14px;background:#a6f218"></div>
<div class="a" style="left:474.0px;top:401.4px;width:1.3px;height:14px;background:#34cfa6"></div>
<div class="a" style="left:459.5px;top:422.5px;width:24.2px;height:24.5px;background:#c9c9c9"></div>
<div class="t" style="left:459.7px;top:425.4px;font-size:7.2px;font-weight:bold;color:#0a0a0a">normal</div>
<div class="t" style="left:462.1px;top:433.6px;font-size:7.2px;font-weight:bold;color:#0a0a0a">work</div>
<div class="t" style="left:507.8px;top:289.3px;font-size:6.7px;font-weight:bold;color:#0a0a0a;-webkit-text-stroke:0.2px #0a0a0a;transform:scaleX(0.9);transform-origin:0 0">Kce_Murc_14C</div>
<div class="a" style="left:507.5px;top:297px;width:28.4px;height:124.2px;background:#0e8479;border:1.3px solid #0a0a0a;border-radius:2px"></div>
<div class="a" style="left:509.5px;top:303.9px;width:4.6px;height:4.6px;border-radius:50%;background:#e0e6e6;box-shadow:0 0 0 0.6px #9cb8b4"></div>
<div class="a" style="left:511.7px;top:313.6px;width:22.5px;height:1px;background:repeating-linear-gradient(90deg,#0a2a26 0,#0a2a26 1.2px,transparent 1.2px,transparent 2.9px)"></div>
<div class="a" style="left:537.8px;top:313.6px;width:1.5px;height:1px;background:#333"></div><div class="a" style="left:540.4px;top:313.6px;width:1.5px;height:1px;background:#333"></div><div class="a" style="left:543.0px;top:313.6px;width:1.5px;height:1px;background:#333"></div>
<div class="t" style="left:537.3px;top:303.0px;font-size:6.0px;color:#1a1a1a;-webkit-text-stroke:0.15px #1a1a1a">4</div>
<div class="a" style="left:509.5px;top:320.9px;width:4.6px;height:4.6px;border-radius:50%;background:#e0e6e6;box-shadow:0 0 0 0.6px #9cb8b4"></div>
<div class="a" style="left:511.7px;top:330.7px;width:22.5px;height:1px;background:repeating-linear-gradient(90deg,#0a2a26 0,#0a2a26 1.2px,transparent 1.2px,transparent 2.9px)"></div>
<div class="a" style="left:537.8px;top:330.7px;width:1.5px;height:1px;background:#333"></div><div class="a" style="left:540.4px;top:330.7px;width:1.5px;height:1px;background:#333"></div><div class="a" style="left:543.0px;top:330.7px;width:1.5px;height:1px;background:#333"></div>
<div class="t" style="left:537.3px;top:320.1px;font-size:6.0px;color:#1a1a1a;-webkit-text-stroke:0.15px #1a1a1a">3</div>
<div class="a" style="left:509.5px;top:338.0px;width:4.6px;height:4.6px;border-radius:50%;background:#e0e6e6;box-shadow:0 0 0 0.6px #9cb8b4"></div>
<div class="a" style="left:511.7px;top:347.7px;width:22.5px;height:1px;background:repeating-linear-gradient(90deg,#0a2a26 0,#0a2a26 1.2px,transparent 1.2px,transparent 2.9px)"></div>
<div class="a" style="left:537.8px;top:347.7px;width:1.5px;height:1px;background:#333"></div><div class="a" style="left:540.4px;top:347.7px;width:1.5px;height:1px;background:#333"></div><div class="a" style="left:543.0px;top:347.7px;width:1.5px;height:1px;background:#333"></div>
<div class="t" style="left:537.3px;top:337.1px;font-size:6.0px;color:#1a1a1a;-webkit-text-stroke:0.15px #1a1a1a">2</div>
<div class="a" style="left:509.5px;top:355.1px;width:4.6px;height:4.6px;border-radius:50%;background:#e0e6e6;box-shadow:0 0 0 0.6px #9cb8b4"></div>
<div class="a" style="left:511.7px;top:364.8px;width:22.5px;height:1px;background:repeating-linear-gradient(90deg,#0a2a26 0,#0a2a26 1.2px,transparent 1.2px,transparent 2.9px)"></div>
<div class="a" style="left:537.8px;top:364.8px;width:1.5px;height:1px;background:#333"></div><div class="a" style="left:540.4px;top:364.8px;width:1.5px;height:1px;background:#333"></div><div class="a" style="left:543.0px;top:364.8px;width:1.5px;height:1px;background:#333"></div>
<div class="t" style="left:537.3px;top:354.2px;font-size:6.0px;color:#1a1a1a;-webkit-text-stroke:0.15px #1a1a1a">1</div>
<div class="a" style="left:509.5px;top:372.1px;width:4.6px;height:4.6px;border-radius:50%;background:#e0e6e6;box-shadow:0 0 0 0.6px #9cb8b4"></div>
<div class="a" style="left:511.7px;top:381.8px;width:22.5px;height:1px;background:repeating-linear-gradient(90deg,#0a2a26 0,#0a2a26 1.2px,transparent 1.2px,transparent 2.9px)"></div>
<div class="a" style="left:537.8px;top:381.8px;width:1.5px;height:1px;background:#333"></div><div class="a" style="left:540.4px;top:381.8px;width:1.5px;height:1px;background:#333"></div><div class="a" style="left:543.0px;top:381.8px;width:1.5px;height:1px;background:#333"></div>
<div class="t" style="left:537.3px;top:371.2px;font-size:6.0px;color:#1a1a1a;-webkit-text-stroke:0.15px #1a1a1a">0</div>
<div class="a" style="left:509.5px;top:389.1px;width:4.6px;height:4.6px;border-radius:50%;background:#e0e6e6;box-shadow:0 0 0 0.6px #9cb8b4"></div>
<div class="a" style="left:511.7px;top:398.9px;width:22.5px;height:1px;background:repeating-linear-gradient(90deg,#0a2a26 0,#0a2a26 1.2px,transparent 1.2px,transparent 2.9px)"></div>
<div class="a" style="left:537.8px;top:398.9px;width:1.5px;height:1px;background:#333"></div><div class="a" style="left:540.4px;top:398.9px;width:1.5px;height:1px;background:#333"></div><div class="a" style="left:543.0px;top:398.9px;width:1.5px;height:1px;background:#333"></div>
<div class="t" style="left:537.3px;top:388.2px;font-size:6.0px;color:#1a1a1a;-webkit-text-stroke:0.15px #1a1a1a">-1</div>
<div class="a" style="left:509.5px;top:406.2px;width:4.6px;height:4.6px;border-radius:50%;background:#e0e6e6;box-shadow:0 0 0 0.6px #9cb8b4"></div>
<div class="t" style="left:537.3px;top:405.3px;font-size:6.0px;color:#1a1a1a;-webkit-text-stroke:0.15px #1a1a1a">-2</div>
<div class="a" style="left:516.6px;top:383.2px;width:16.5px;height:16px;background:#8cf014;border:1px solid #1c4a2a"></div>
<div class="a" style="left:517.6px;top:384.2px;width:5.6px;height:14px;background:#a6f218"></div>
<div class="a" style="left:524.0px;top:384.2px;width:1.3px;height:14px;background:#34cfa6"></div>
<div class="a" style="left:509.5px;top:422.5px;width:24.2px;height:24.5px;background:#c9c9c9"></div>
<div class="t" style="left:509.7px;top:425.4px;font-size:7.2px;font-weight:bold;color:#0a0a0a">normal</div>
<div class="t" style="left:512.1px;top:433.6px;font-size:7.2px;font-weight:bold;color:#0a0a0a">work</div>
<div class="t" style="left:557.8px;top:357.3px;font-size:6.7px;font-weight:bold;color:#0a0a0a;-webkit-text-stroke:0.2px #0a0a0a;transform:scaleX(0.9);transform-origin:0 0">VEGA_Rajska</div>
<div class="a" style="left:557.5px;top:365px;width:28.4px;height:38.9px;background:#0e8479;border:1.3px solid #0a0a0a;border-radius:2px"></div>
<div class="a" style="left:559.5px;top:371.9px;width:4.6px;height:4.6px;border-radius:50%;background:#e0e6e6;box-shadow:0 0 0 0.6px #9cb8b4"></div>
<div class="a" style="left:561.7px;top:381.6px;width:22.5px;height:1px;background:repeating-linear-gradient(90deg,#0a2a26 0,#0a2a26 1.2px,transparent 1.2px,transparent 2.9px)"></div>
<div class="a" style="left:587.8px;top:381.6px;width:1.5px;height:1px;background:#333"></div><div class="a" style="left:590.4px;top:381.6px;width:1.5px;height:1px;background:#333"></div><div class="a" style="left:593.0px;top:381.6px;width:1.5px;height:1px;background:#333"></div>
<div class="t" style="left:587.3px;top:371.0px;font-size:6.0px;color:#1a1a1a;-webkit-text-stroke:0.15px #1a1a1a">0</div>
<div class="a" style="left:559.5px;top:388.9px;width:4.6px;height:4.6px;border-radius:50%;background:#e0e6e6;box-shadow:0 0 0 0.6px #9cb8b4"></div>
<div class="t" style="left:587.3px;top:388.1px;font-size:6.0px;color:#1a1a1a;-webkit-text-stroke:0.15px #1a1a1a">-1</div>
<div class="a" style="left:566.6px;top:383.1px;width:16.5px;height:16px;background:#8cf014;border:1px solid #1c4a2a"></div>
<div class="a" style="left:567.6px;top:384.1px;width:5.6px;height:14px;background:#a6f218"></div>
<div class="a" style="left:574.0px;top:384.1px;width:1.3px;height:14px;background:#34cfa6"></div>
<div class="a" style="left:559.5px;top:422.5px;width:24.2px;height:24.5px;background:#c9c9c9"></div>
<div class="t" style="left:559.7px;top:425.4px;font-size:7.2px;font-weight:bold;color:#0a0a0a">normal</div>
<div class="t" style="left:562.1px;top:433.6px;font-size:7.2px;font-weight:bold;color:#0a0a0a">work</div>
<div class="a" style="left:607px;top:0;width:210px;height:449px;background:#fff"></div>
<div class="t" style="left:634px;top:10.5px;font-size:9.6px;font-weight:bold;color:#000;letter-spacing:0.1px">12:46</div>
<svg class="a" style="left:755.5px;top:11.5px" width="60" height="9"><rect x="0" y="5" width="1.6" height="3" fill="#000"/><rect x="2.4" y="3.6" width="1.6" height="4.4" fill="#000"/><rect x="4.8" y="2" width="1.6" height="6" fill="#000"/><rect x="7.2" y="0.5" width="1.6" height="7.5" fill="#ccc"/></svg>
<div class="t" style="left:770px;top:11.3px;font-size:7.4px;font-weight:bold;color:#111">5G</div>
<svg class="a" style="left:783px;top:11px" width="16" height="9"><rect x="0.5" y="1" width="12" height="7" rx="2" fill="#fff" stroke="#bbb" stroke-width="0.8"/><rect x="1.5" y="2" width="9.5" height="5" rx="1" fill="#000"/><rect x="13.3" y="3.3" width="1.2" height="2.4" fill="#999"/></svg>
<svg class="a" style="left:611.7px;top:34.5px" width="8" height="12"><path d="M6.5 1L1.8 6L6.5 11" fill="none" stroke="#2d6fd2" stroke-width="1.6"/></svg>
<div class="t" style="left:624.5px;top:36.3px;font-size:9px;font-weight:bold;color:#2d6fd2">14</div>
<div class="t" style="left:678px;top:36.4px;font-size:8.8px;font-weight:bold;color:#111">Work of engines</div>
<svg class="a" style="left:793.5px;top:32.5px" width="14" height="14"><path d="M11.3 5.5A5 5 0 1 1 7 2.2" fill="none" stroke="#c4c4c4" stroke-width="1.1"/><path d="M5.6 0.6L8 2.2L6 4.2" fill="none" stroke="#c4c4c4" stroke-width="1.1"/></svg>
<div class="t" style="left:626.5px;top:60.5px;font-size:7.6px;font-weight:bold;color:#2d6fd2">&lt;&lt;</div>
<div class="t" style="left:648px;top:59.6px;font-size:7.95px;color:#2d6fd2;-webkit-text-stroke:0.2px #2d6fd2">03.10.23 Discreteness 1 hour</div>
<div class="t" style="left:626.5px;top:80px;font-size:7.6px;font-weight:bold;color:#2d6fd2">&gt;&gt;</div>
<div class="t" style="left:648px;top:80px;font-size:8.15px;color:#2d6fd2;-webkit-text-stroke:0.2px #2d6fd2">05.10.23 Number of turn on MD</div>
<div class="a" style="left:607px;top:90.8px;width:208px;height:1.2px;background:#d0d0d0"></div>
<div class="a" style="left:645px;top:96px;width:170px;height:1px;background:#9a9a9a"></div>
<div class="a" style="left:645px;top:203px;width:170px;height:1px;background:#333"></div>
<div class="a" style="left:645px;top:309.5px;width:170px;height:1px;background:#888"></div>
<div class="a" style="left:645px;top:415.5px;width:170px;height:1px;background:#222"></div>
<div class="t" style="left:624px;top:95.8px;font-size:6.4px;color:#111;-webkit-text-stroke:0.15px #111">30</div>
<div class="t" style="left:624px;top:203.3px;font-size:6.4px;color:#111;-webkit-text-stroke:0.15px #111">20</div>
<div class="t" style="left:624px;top:309.1px;font-size:6.4px;color:#111;-webkit-text-stroke:0.15px #111">10</div>
<div class="t" style="left:625px;top:416.0px;font-size:6.4px;color:#111;-webkit-text-stroke:0.15px #111">0</div>
<div class="t" style="left:637px;top:416.3px;font-size:6.2px;color:#222;-webkit-text-stroke:0.15px #222">03.10</div>
<div class="t" style="left:692.5px;top:416.3px;font-size:6.2px;color:#222;-webkit-text-stroke:0.15px #222">04.10</div>
<div class="t" style="left:749.5px;top:416.3px;font-size:6.2px;color:#222;-webkit-text-stroke:0.15px #222">05.10</div>
<svg class="a" style="left:0;top:0" width="1024" height="449"><rect x="647.25" y="394.6" width="2.10" height="21.3" fill="#0c80f8"/><rect x="651.85" y="383.9" width="2.50" height="32.0" fill="#0c80f8"/><rect x="654.05" y="383.9" width="2.50" height="32.0" fill="#0c80f8"/><rect x="658.85" y="298.8" width="2.90" height="117.2" fill="#0c80f8"/><rect x="661.45" y="288.1" width="2.70" height="127.8" fill="#0c80f8"/><rect x="663.85" y="117.7" width="2.40" height="298.2" fill="#0c80f8"/><rect x="665.95" y="309.4" width="2.30" height="106.5" fill="#0c80f8"/><rect x="667.95" y="181.6" width="3.30" height="234.3" fill="#0c80f8"/><rect x="670.95" y="373.3" width="2.30" height="42.6" fill="#0c80f8"/><rect x="672.95" y="309.4" width="2.30" height="106.5" fill="#0c80f8"/><rect x="674.95" y="341.3" width="3.30" height="74.5" fill="#0c80f8"/><rect x="677.95" y="266.8" width="2.30" height="149.1" fill="#0c80f8"/><rect x="679.95" y="277.4" width="2.70" height="138.5" fill="#0c80f8"/><rect x="682.35" y="373.3" width="2.60" height="42.6" fill="#0c80f8"/><rect x="684.65" y="373.3" width="2.60" height="42.6" fill="#0c80f8"/><rect x="689.55" y="394.6" width="2.30" height="21.3" fill="#0c80f8"/><rect x="693.95" y="383.9" width="2.90" height="32.0" fill="#0c80f8"/><rect x="698.95" y="394.6" width="2.80" height="21.3" fill="#0c80f8"/><rect x="701.45" y="394.6" width="2.80" height="21.3" fill="#0c80f8"/><rect x="705.95" y="405.2" width="2.80" height="10.7" fill="#0c80f8"/><rect x="708.45" y="405.2" width="2.80" height="10.7" fill="#0c80f8"/><rect x="712.95" y="394.6" width="3.40" height="21.3" fill="#0c80f8"/><rect x="716.05" y="320.0" width="2.30" height="95.9" fill="#0c80f8"/><rect x="718.05" y="277.4" width="2.30" height="138.5" fill="#0c80f8"/><rect x="720.05" y="107.0" width="2.30" height="308.9" fill="#0c80f8"/><rect x="722.05" y="330.7" width="2.30" height="85.2" fill="#0c80f8"/><rect x="724.05" y="362.6" width="3.70" height="53.2" fill="#0c80f8"/><rect x="727.45" y="341.3" width="2.30" height="74.5" fill="#0c80f8"/><rect x="729.45" y="234.8" width="2.90" height="181.1" fill="#0c80f8"/><rect x="732.05" y="320.0" width="3.30" height="95.9" fill="#0c80f8"/><rect x="735.05" y="277.4" width="2.70" height="138.5" fill="#0c80f8"/><rect x="737.45" y="245.5" width="1.90" height="170.4" fill="#0c80f8"/><rect x="739.05" y="330.7" width="2.30" height="85.2" fill="#0c80f8"/><rect x="741.05" y="394.6" width="2.80" height="21.3" fill="#0c80f8"/><rect x="743.55" y="394.6" width="2.80" height="21.3" fill="#0c80f8"/><rect x="746.05" y="362.6" width="2.30" height="53.2" fill="#0c80f8"/><rect x="750.45" y="383.9" width="2.90" height="32.0" fill="#0c80f8"/><rect x="755.05" y="373.3" width="3.30" height="42.6" fill="#0c80f8"/><rect x="760.05" y="373.3" width="2.70" height="42.6" fill="#0c80f8"/><rect x="765.05" y="383.9" width="2.65" height="32.0" fill="#0c80f8"/><rect x="767.40" y="383.9" width="2.65" height="32.0" fill="#0c80f8"/><rect x="774.15" y="117.7" width="2.30" height="298.2" fill="#0c80f8"/><rect x="776.15" y="181.6" width="2.70" height="234.3" fill="#0c80f8"/><rect x="778.55" y="181.6" width="1.90" height="234.3" fill="#0c80f8"/><rect x="780.15" y="373.3" width="2.30" height="42.6" fill="#0c80f8"/><rect x="782.15" y="266.8" width="2.30" height="149.1" fill="#0c80f8"/><rect x="784.15" y="341.3" width="2.30" height="74.5" fill="#0c80f8"/></svg>
<div class="a" style="left:675px;top:442px;width:73px;height:2.6px;border-radius:2px;background:#000"></div>
<div class="a" style="left:817px;top:0;width:207px;height:449px;background:#fff"></div>
<div class="a" style="left:817px;top:0;width:207px;height:449px;background:#f2f3f5"></div>
<div class="a" style="left:817px;top:0;width:207px;height:51px;background:#04a622"></div>
<div class="t" style="left:844px;top:10.8px;font-size:9.2px;font-weight:bold;color:#fff">12:27</div>
<svg class="a" style="left:965px;top:12px" width="10" height="8"><rect x="0" y="5" width="1.8" height="3" fill="#fff"/><rect x="2.6" y="3.5" width="1.8" height="4.5" fill="#fff"/><rect x="5.2" y="2" width="1.8" height="6" fill="#fff"/><rect x="7.8" y="0.5" width="1.4" height="7.5" fill="#7fd49a"/></svg>
<div class="t" style="left:978.5px;top:12px;font-size:7.4px;font-weight:bold;color:#fff">5G</div>
<svg class="a" style="left:993px;top:12px" width="15" height="8"><rect x="0.5" y="0.5" width="11" height="7" rx="2" fill="#fff" stroke="#cfe" stroke-width="0.6"/><rect x="12.4" y="2.6" width="1.3" height="2.8" fill="#9ed9ae"/></svg>
<svg class="a" style="left:825px;top:35px" width="13" height="9"><path d="M0.5 1H12.5M0.5 4.5H12.5M0.5 8H12.5" stroke="#fff" stroke-width="1.3"/></svg>
<svg class="a" style="left:1002px;top:33px" width="14" height="14"><circle cx="7" cy="7" r="5.9" fill="none" stroke="#fff" stroke-width="1.1"/><circle cx="7" cy="5.6" r="2" fill="none" stroke="#fff" stroke-width="1.1"/><path d="M3.4 11.2Q7 7.8 10.6 11.2" fill="none" stroke="#fff" stroke-width="1.1"/></svg>
<div class="a" style="left:817px;top:51px;width:207px;height:24.5px;background:#ebf6ec"></div>
<div class="t" style="left:827px;top:57.1px;font-size:16px;color:#262626;letter-spacing:0.6px">Lokalizacja_2</div>
<div class="a" style="left:821px;top:75.3px;width:198px;height:1.4px;background:#a8a8a8"></div>
<svg class="a" style="left:883.5px;top:80.5px" width="31" height="29" viewBox="0 0 31 29"><path d="M1.3 16.5A14 14 0 0 1 8 4.4" fill="none" stroke="#2f8a3c" stroke-width="2.1"/><path d="M8 4.4A14 14 0 0 1 22.2 4.3" fill="none" stroke="#cdb52a" stroke-width="2.1"/><path d="M22.2 4.3A14 14 0 0 1 29.3 16.5" fill="none" stroke="#c02a22" stroke-width="2.1"/><circle cx="6.6" cy="11.2" r="1.5" fill="none" stroke="#333" stroke-width="0.9"/><path d="M18.4 8.8L10.9 18.1H15.9L11.3 27L20.5 17.4H15.6Z" fill="none" stroke="#1a1a1a" stroke-width="1.05" stroke-linejoin="round"/></svg>
<div class="t" style="left:916px;top:90.5px;font-size:10.1px;color:#222">93,81 kWh</div>
<svg class="a" style="left:850px;top:97.7px" width="12" height="12"><circle cx="6" cy="6" r="5.1" fill="none" stroke="#222" stroke-width="1.2"/><circle cx="5.8" cy="3.9" r="0.75" fill="#222"/><rect x="5.3" y="5.6" width="1.1" height="3.6" fill="#222"/></svg>
<div class="a" style="left:1004.2px;top:100.9px;width:5.6px;height:5.6px;border-radius:50%;background:#1aa64a"></div>
<div class="a" style="left:821px;top:128px;width:198px;height:1.2px;background:#b0b0b0"></div>
<svg class="a" style="left:876.5px;top:133.5px" width="31" height="29" viewBox="0 0 31 29"><path d="M1.3 16.5A14 14 0 0 1 8 4.4" fill="none" stroke="#2f8a3c" stroke-width="2.1"/><path d="M8 4.4A14 14 0 0 1 22.2 4.3" fill="none" stroke="#cdb52a" stroke-width="2.1"/><path d="M22.2 4.3A14 14 0 0 1 29.3 16.5" fill="none" stroke="#c02a22" stroke-width="2.1"/><circle cx="6.6" cy="11.2" r="1.5" fill="none" stroke="#333" stroke-width="0.9"/><path d="M18.4 8.8L10.9 18.1H15.9L11.3 27L20.5 17.4H15.6Z" fill="none" stroke="#1a1a1a" stroke-width="1.05" stroke-linejoin="round"/></svg>
<div class="t" style="left:910px;top:144.5px;font-size:10.1px;color:#222;letter-spacing:0px">7677,59 kWh</div>
<svg class="a" style="left:850px;top:150.8px" width="12" height="12"><circle cx="6" cy="6" r="5.1" fill="none" stroke="#222" stroke-width="1.2"/><circle cx="5.8" cy="3.9" r="0.75" fill="#222"/><rect x="5.3" y="5.6" width="1.1" height="3.6" fill="#222"/></svg>
<div class="a" style="left:1004.2px;top:154.0px;width:5.6px;height:5.6px;border-radius:50%;background:#1aa64a"></div>
<div class="t" style="left:878px;top:170.5px;font-size:6.4px;font-weight:bold;color:#111">Licznik energii elektrycznej</div>
<div class="a" style="left:817px;top:183.5px;width:207px;height:24px;background:#ebf6ec"></div>
<div class="t" style="left:827px;top:189.3px;font-size:16px;color:#262626;letter-spacing:0.3px">ul. Bohaterów</div>
<div class="t" style="left:974px;top:195px;font-size:9.5px;font-weight:bold;color:#222;letter-spacing:0.6px">...</div>
<div class="a" style="left:821px;top:207.2px;width:198px;height:1.4px;background:#a8a8a8"></div>
<svg class="a" style="left:902px;top:219px" width="40" height="23"><rect x="0.8" y="0.8" width="29.5" height="20.5" fill="#fff" stroke="#111" stroke-width="1.5"/><path d="M15.5 1V21" stroke="#111" stroke-width="1.2"/><rect x="32.6" y="11" width="4" height="5" fill="#fff" stroke="#111" stroke-width="1.2"/></svg>
<div class="t" style="left:872px;top:248.5px;font-size:6.6px;font-weight:bold;color:#111;letter-spacing:-0.05px">Winda Samochodowa Poziom 0</div>
<div class="a" style="left:1004.2px;top:233.2px;width:5.6px;height:5.6px;border-radius:50%;background:#1aa64a"></div>
<svg class="a" style="left:902px;top:272px" width="40" height="23"><rect x="0.8" y="0.8" width="29.5" height="20.5" fill="#f5c400" stroke="#111" stroke-width="1.5"/><path d="M1.6 1.6H29.5L26 4.3H5Z" fill="#fff6d0"/><path d="M1.6 20.5H29.5L26 17.8H5Z" fill="#fff6d0"/><path d="M1.6 1.6L5 4.3V17.8L1.6 20.5Z" fill="#ffe050"/><path d="M29.5 1.6L26 4.3V17.8L29.5 20.5Z" fill="#ffe050"/><path d="M2 17L5 15M29 17L26 15" stroke="#c0501a" stroke-width="0.9"/><path d="M15.5 1V21" stroke="#111" stroke-width="1.2"/><rect x="32.6" y="10.6" width="4" height="5" fill="#fff" stroke="#111" stroke-width="1.2"/></svg>
<div class="t" style="left:871px;top:300.5px;font-size:6.6px;font-weight:bold;color:#111;letter-spacing:-0.05px">Winda Samochodowa Poziom -1</div>
<div class="a" style="left:1004.2px;top:285.5px;width:5.6px;height:5.6px;border-radius:50%;background:#1aa64a"></div>
<div class="a" style="left:821px;top:311.8px;width:198px;height:1.2px;background:#b0b0b0"></div>
<div class="a" style="left:817px;top:404px;width:207px;height:1px;background:#dcdcdc"></div>
<svg class="a" style="left:844px;top:411px" width="13" height="9"><path d="M0.5 1H12.5M0.5 4.5H12.5M0.5 8H12.5" stroke="#2cb85a" stroke-width="1.3"/></svg>
<div class="t" style="left:844px;top:424.5px;font-size:5.6px;font-weight:bold;color:#2cb85a">Rzuty</div>
<svg class="a" style="left:913px;top:412px" width="15" height="6"><circle cx="2.5" cy="3" r="1.9" fill="none" stroke="#111" stroke-width="1.1"/><circle cx="7.5" cy="3" r="1.9" fill="none" stroke="#111" stroke-width="1.1"/><circle cx="12.5" cy="3" r="1.9" fill="none" stroke="#111" stroke-width="1.1"/></svg>
<div class="t" style="left:913px;top:424.5px;font-size:5.6px;font-weight:bold;color:#111">Grupy</div>
<svg class="a" style="left:983px;top:409px" width="12" height="12"><path d="M2 1.2H10V6.5A4 4 0 0 1 2 6.5Z" fill="none" stroke="#111" stroke-width="1.1"/><path d="M2 4H10" stroke="#111" stroke-width="1"/><path d="M1 10.8H11" stroke="#111" stroke-width="1.1"/></svg>
<div class="t" style="left:982px;top:424.5px;font-size:5.6px;font-weight:bold;color:#111">Sceny</div>
<div class="a" style="left:884px;top:442px;width:73px;height:3px;border-radius:2px;background:#000"></div>
</body></html>
